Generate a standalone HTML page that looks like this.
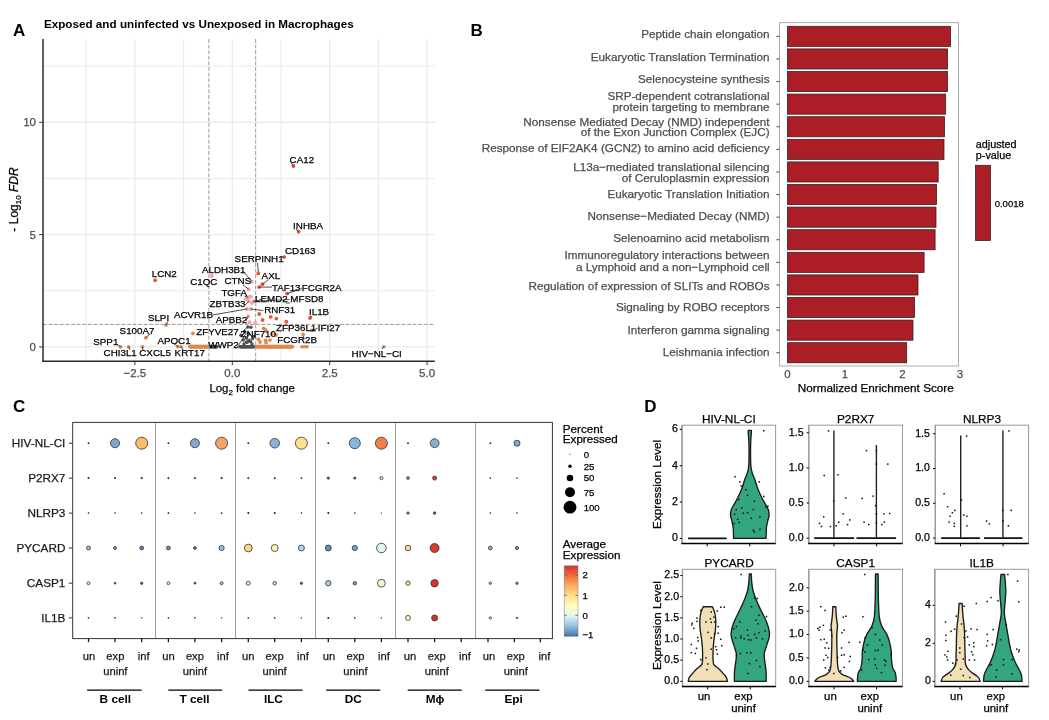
<!DOCTYPE html>
<html><head><meta charset="utf-8"><title>Figure</title>
<style>
html,body{margin:0;padding:0;background:#fff;}
body{width:1049px;height:720px;overflow:hidden;}
svg{display:block;font-family:"Liberation Sans", sans-serif;will-change:transform;}
</style></head><body>
<svg width="1049" height="720" viewBox="0 0 1049 720">
<rect x="0" y="0" width="1049" height="720" fill="#fff"/>
<text x="13.00" y="35.50" font-size="17" text-anchor="start" font-weight="bold" fill="#000" >A</text>
<text x="43.90" y="27.90" font-size="11.7" text-anchor="start" font-weight="bold" fill="#000" >Exposed and uninfected vs Unexposed in Macrophages</text>
<line x1="86.20" y1="39.00" x2="86.20" y2="361.30" stroke="#EBEBEB" stroke-width="1.1"/>
<line x1="134.90" y1="39.00" x2="134.90" y2="361.30" stroke="#EBEBEB" stroke-width="1.3"/>
<line x1="183.60" y1="39.00" x2="183.60" y2="361.30" stroke="#EBEBEB" stroke-width="1.1"/>
<line x1="232.30" y1="39.00" x2="232.30" y2="361.30" stroke="#EBEBEB" stroke-width="1.3"/>
<line x1="281.00" y1="39.00" x2="281.00" y2="361.30" stroke="#EBEBEB" stroke-width="1.1"/>
<line x1="329.70" y1="39.00" x2="329.70" y2="361.30" stroke="#EBEBEB" stroke-width="1.3"/>
<line x1="378.40" y1="39.00" x2="378.40" y2="361.30" stroke="#EBEBEB" stroke-width="1.1"/>
<line x1="427.10" y1="39.00" x2="427.10" y2="361.30" stroke="#EBEBEB" stroke-width="1.3"/>
<line x1="43.00" y1="346.95" x2="434.80" y2="346.95" stroke="#EBEBEB" stroke-width="1.3"/>
<line x1="43.00" y1="290.77" x2="434.80" y2="290.77" stroke="#EBEBEB" stroke-width="1.1"/>
<line x1="43.00" y1="234.60" x2="434.80" y2="234.60" stroke="#EBEBEB" stroke-width="1.3"/>
<line x1="43.00" y1="178.43" x2="434.80" y2="178.43" stroke="#EBEBEB" stroke-width="1.1"/>
<line x1="43.00" y1="122.25" x2="434.80" y2="122.25" stroke="#EBEBEB" stroke-width="1.3"/>
<line x1="43.00" y1="66.07" x2="434.80" y2="66.07" stroke="#EBEBEB" stroke-width="1.1"/>
<line x1="208.92" y1="39.00" x2="208.92" y2="361.30" stroke="#9A9A9A" stroke-width="1.0" stroke-dasharray="3.9,1.7"/>
<line x1="255.68" y1="39.00" x2="255.68" y2="361.30" stroke="#9A9A9A" stroke-width="1.0" stroke-dasharray="3.9,1.7"/>
<line x1="43.00" y1="324.40" x2="434.80" y2="324.40" stroke="#9A9A9A" stroke-width="1.0" stroke-dasharray="3.9,1.7"/>
<circle cx="210.30" cy="346.70" r="1.75" fill="#505050"/>
<circle cx="210.91" cy="346.70" r="1.75" fill="#505050"/>
<circle cx="211.52" cy="346.70" r="1.75" fill="#505050"/>
<circle cx="212.13" cy="346.70" r="1.75" fill="#505050"/>
<circle cx="212.74" cy="346.70" r="1.75" fill="#505050"/>
<circle cx="213.35" cy="346.70" r="1.75" fill="#505050"/>
<circle cx="213.95" cy="346.70" r="1.75" fill="#505050"/>
<circle cx="214.56" cy="346.70" r="1.75" fill="#505050"/>
<circle cx="215.17" cy="346.70" r="1.75" fill="#505050"/>
<circle cx="215.78" cy="346.70" r="1.75" fill="#505050"/>
<circle cx="216.39" cy="346.70" r="1.75" fill="#505050"/>
<circle cx="217.00" cy="346.70" r="1.75" fill="#505050"/>
<circle cx="240.20" cy="346.70" r="1.75" fill="#505050"/>
<circle cx="240.85" cy="346.70" r="1.75" fill="#505050"/>
<circle cx="241.50" cy="346.70" r="1.75" fill="#505050"/>
<circle cx="242.14" cy="346.70" r="1.75" fill="#505050"/>
<circle cx="242.79" cy="346.70" r="1.75" fill="#505050"/>
<circle cx="243.44" cy="346.70" r="1.75" fill="#505050"/>
<circle cx="244.09" cy="346.70" r="1.75" fill="#505050"/>
<circle cx="244.73" cy="346.70" r="1.75" fill="#505050"/>
<circle cx="245.38" cy="346.70" r="1.75" fill="#505050"/>
<circle cx="246.03" cy="346.70" r="1.75" fill="#505050"/>
<circle cx="246.68" cy="346.70" r="1.75" fill="#505050"/>
<circle cx="247.32" cy="346.70" r="1.75" fill="#505050"/>
<circle cx="247.97" cy="346.70" r="1.75" fill="#505050"/>
<circle cx="248.62" cy="346.70" r="1.75" fill="#505050"/>
<circle cx="249.27" cy="346.70" r="1.75" fill="#505050"/>
<circle cx="249.91" cy="346.70" r="1.75" fill="#505050"/>
<circle cx="250.56" cy="346.70" r="1.75" fill="#505050"/>
<circle cx="251.21" cy="346.70" r="1.75" fill="#505050"/>
<circle cx="251.86" cy="346.70" r="1.75" fill="#505050"/>
<circle cx="252.50" cy="346.70" r="1.75" fill="#505050"/>
<circle cx="253.15" cy="346.70" r="1.75" fill="#505050"/>
<circle cx="253.80" cy="346.70" r="1.75" fill="#505050"/>
<circle cx="190.00" cy="346.60" r="1.90" fill="#DB8B50"/>
<circle cx="190.46" cy="346.60" r="1.90" fill="#DB8B50"/>
<circle cx="190.92" cy="346.60" r="1.90" fill="#DB8B50"/>
<circle cx="191.38" cy="346.60" r="1.90" fill="#DB8B50"/>
<circle cx="191.85" cy="346.60" r="1.90" fill="#DB8B50"/>
<circle cx="192.31" cy="346.60" r="1.90" fill="#DB8B50"/>
<circle cx="192.77" cy="346.60" r="1.90" fill="#DB8B50"/>
<circle cx="193.23" cy="346.60" r="1.90" fill="#DB8B50"/>
<circle cx="193.69" cy="346.60" r="1.90" fill="#DB8B50"/>
<circle cx="194.15" cy="346.60" r="1.90" fill="#DB8B50"/>
<circle cx="194.62" cy="346.60" r="1.90" fill="#DB8B50"/>
<circle cx="195.08" cy="346.60" r="1.90" fill="#DB8B50"/>
<circle cx="195.54" cy="346.60" r="1.90" fill="#DB8B50"/>
<circle cx="196.00" cy="346.60" r="1.90" fill="#DB8B50"/>
<circle cx="196.46" cy="346.60" r="1.90" fill="#DB8B50"/>
<circle cx="196.92" cy="346.60" r="1.90" fill="#DB8B50"/>
<circle cx="197.38" cy="346.60" r="1.90" fill="#DB8B50"/>
<circle cx="197.85" cy="346.60" r="1.90" fill="#DB8B50"/>
<circle cx="198.31" cy="346.60" r="1.90" fill="#DB8B50"/>
<circle cx="198.77" cy="346.60" r="1.90" fill="#DB8B50"/>
<circle cx="199.23" cy="346.60" r="1.90" fill="#DB8B50"/>
<circle cx="199.69" cy="346.60" r="1.90" fill="#DB8B50"/>
<circle cx="200.15" cy="346.60" r="1.90" fill="#DB8B50"/>
<circle cx="200.62" cy="346.60" r="1.90" fill="#DB8B50"/>
<circle cx="201.08" cy="346.60" r="1.90" fill="#DB8B50"/>
<circle cx="201.54" cy="346.60" r="1.90" fill="#DB8B50"/>
<circle cx="202.00" cy="346.60" r="1.90" fill="#DB8B50"/>
<circle cx="202.46" cy="346.60" r="1.90" fill="#DB8B50"/>
<circle cx="202.92" cy="346.60" r="1.90" fill="#DB8B50"/>
<circle cx="203.38" cy="346.60" r="1.90" fill="#DB8B50"/>
<circle cx="203.85" cy="346.60" r="1.90" fill="#DB8B50"/>
<circle cx="204.31" cy="346.60" r="1.90" fill="#DB8B50"/>
<circle cx="204.77" cy="346.60" r="1.90" fill="#DB8B50"/>
<circle cx="205.23" cy="346.60" r="1.90" fill="#DB8B50"/>
<circle cx="205.69" cy="346.60" r="1.90" fill="#DB8B50"/>
<circle cx="206.15" cy="346.60" r="1.90" fill="#DB8B50"/>
<circle cx="206.62" cy="346.60" r="1.90" fill="#DB8B50"/>
<circle cx="207.08" cy="346.60" r="1.90" fill="#DB8B50"/>
<circle cx="207.54" cy="346.60" r="1.90" fill="#DB8B50"/>
<circle cx="208.00" cy="346.60" r="1.90" fill="#DB8B50"/>
<circle cx="256.80" cy="346.60" r="1.90" fill="#DB8B50"/>
<circle cx="257.32" cy="346.60" r="1.90" fill="#DB8B50"/>
<circle cx="257.83" cy="346.60" r="1.90" fill="#DB8B50"/>
<circle cx="258.35" cy="346.60" r="1.90" fill="#DB8B50"/>
<circle cx="258.87" cy="346.60" r="1.90" fill="#DB8B50"/>
<circle cx="259.39" cy="346.60" r="1.90" fill="#DB8B50"/>
<circle cx="259.90" cy="346.60" r="1.90" fill="#DB8B50"/>
<circle cx="260.42" cy="346.60" r="1.90" fill="#DB8B50"/>
<circle cx="260.94" cy="346.60" r="1.90" fill="#DB8B50"/>
<circle cx="261.46" cy="346.60" r="1.90" fill="#DB8B50"/>
<circle cx="261.97" cy="346.60" r="1.90" fill="#DB8B50"/>
<circle cx="262.49" cy="346.60" r="1.90" fill="#DB8B50"/>
<circle cx="263.01" cy="346.60" r="1.90" fill="#DB8B50"/>
<circle cx="263.53" cy="346.60" r="1.90" fill="#DB8B50"/>
<circle cx="264.04" cy="346.60" r="1.90" fill="#DB8B50"/>
<circle cx="264.56" cy="346.60" r="1.90" fill="#DB8B50"/>
<circle cx="265.08" cy="346.60" r="1.90" fill="#DB8B50"/>
<circle cx="265.60" cy="346.60" r="1.90" fill="#DB8B50"/>
<circle cx="266.11" cy="346.60" r="1.90" fill="#DB8B50"/>
<circle cx="266.63" cy="346.60" r="1.90" fill="#DB8B50"/>
<circle cx="267.15" cy="346.60" r="1.90" fill="#DB8B50"/>
<circle cx="267.67" cy="346.60" r="1.90" fill="#DB8B50"/>
<circle cx="268.18" cy="346.60" r="1.90" fill="#DB8B50"/>
<circle cx="268.70" cy="346.60" r="1.90" fill="#DB8B50"/>
<circle cx="269.22" cy="346.60" r="1.90" fill="#DB8B50"/>
<circle cx="269.73" cy="346.60" r="1.90" fill="#DB8B50"/>
<circle cx="270.25" cy="346.60" r="1.90" fill="#DB8B50"/>
<circle cx="270.77" cy="346.60" r="1.90" fill="#DB8B50"/>
<circle cx="271.29" cy="346.60" r="1.90" fill="#DB8B50"/>
<circle cx="271.80" cy="346.60" r="1.90" fill="#DB8B50"/>
<circle cx="272.32" cy="346.60" r="1.90" fill="#DB8B50"/>
<circle cx="272.84" cy="346.60" r="1.90" fill="#DB8B50"/>
<circle cx="273.36" cy="346.60" r="1.90" fill="#DB8B50"/>
<circle cx="273.87" cy="346.60" r="1.90" fill="#DB8B50"/>
<circle cx="274.39" cy="346.60" r="1.90" fill="#DB8B50"/>
<circle cx="274.91" cy="346.60" r="1.90" fill="#DB8B50"/>
<circle cx="275.43" cy="346.60" r="1.90" fill="#DB8B50"/>
<circle cx="275.94" cy="346.60" r="1.90" fill="#DB8B50"/>
<circle cx="276.46" cy="346.60" r="1.90" fill="#DB8B50"/>
<circle cx="276.98" cy="346.60" r="1.90" fill="#DB8B50"/>
<circle cx="277.50" cy="346.60" r="1.90" fill="#DB8B50"/>
<circle cx="278.01" cy="346.60" r="1.90" fill="#DB8B50"/>
<circle cx="278.53" cy="346.60" r="1.90" fill="#DB8B50"/>
<circle cx="279.05" cy="346.60" r="1.90" fill="#DB8B50"/>
<circle cx="279.57" cy="346.60" r="1.90" fill="#DB8B50"/>
<circle cx="280.08" cy="346.60" r="1.90" fill="#DB8B50"/>
<circle cx="280.60" cy="346.60" r="1.90" fill="#DB8B50"/>
<circle cx="281.12" cy="346.60" r="1.90" fill="#DB8B50"/>
<circle cx="281.63" cy="346.60" r="1.90" fill="#DB8B50"/>
<circle cx="282.15" cy="346.60" r="1.90" fill="#DB8B50"/>
<circle cx="282.67" cy="346.60" r="1.90" fill="#DB8B50"/>
<circle cx="283.19" cy="346.60" r="1.90" fill="#DB8B50"/>
<circle cx="283.70" cy="346.60" r="1.90" fill="#DB8B50"/>
<circle cx="284.22" cy="346.60" r="1.90" fill="#DB8B50"/>
<circle cx="284.74" cy="346.60" r="1.90" fill="#DB8B50"/>
<circle cx="285.26" cy="346.60" r="1.90" fill="#DB8B50"/>
<circle cx="285.77" cy="346.60" r="1.90" fill="#DB8B50"/>
<circle cx="286.29" cy="346.60" r="1.90" fill="#DB8B50"/>
<circle cx="286.81" cy="346.60" r="1.90" fill="#DB8B50"/>
<circle cx="287.33" cy="346.60" r="1.90" fill="#DB8B50"/>
<circle cx="287.84" cy="346.60" r="1.90" fill="#DB8B50"/>
<circle cx="288.36" cy="346.60" r="1.90" fill="#DB8B50"/>
<circle cx="288.88" cy="346.60" r="1.90" fill="#DB8B50"/>
<circle cx="289.40" cy="346.60" r="1.90" fill="#DB8B50"/>
<circle cx="289.91" cy="346.60" r="1.90" fill="#DB8B50"/>
<circle cx="290.43" cy="346.60" r="1.90" fill="#DB8B50"/>
<circle cx="290.95" cy="346.60" r="1.90" fill="#DB8B50"/>
<circle cx="291.47" cy="346.60" r="1.90" fill="#DB8B50"/>
<circle cx="291.98" cy="346.60" r="1.90" fill="#DB8B50"/>
<circle cx="292.50" cy="346.60" r="1.90" fill="#DB8B50"/>
<circle cx="177.80" cy="346.70" r="1.80" fill="#DB8B50"/>
<circle cx="181.00" cy="346.70" r="1.80" fill="#DB8B50"/>
<circle cx="302.00" cy="346.70" r="1.80" fill="#DB8B50"/>
<circle cx="304.50" cy="346.70" r="1.80" fill="#DB8B50"/>
<circle cx="307.00" cy="346.70" r="1.80" fill="#DB8B50"/>
<circle cx="384.00" cy="346.70" r="1.80" fill="#DB8B50"/>
<circle cx="120.60" cy="346.80" r="1.90" fill="#DB8B50"/>
<circle cx="128.60" cy="346.80" r="1.90" fill="#DB8B50"/>
<circle cx="142.30" cy="346.80" r="1.90" fill="#DB8B50"/>
<circle cx="145.80" cy="337.80" r="1.90" fill="#DB8B50"/>
<circle cx="166.00" cy="324.90" r="1.90" fill="#DB8B50"/>
<circle cx="192.90" cy="333.40" r="1.90" fill="#DB8B50"/>
<circle cx="263.50" cy="328.30" r="1.90" fill="#DB8B50"/>
<circle cx="265.70" cy="330.00" r="1.90" fill="#DB8B50"/>
<circle cx="258.30" cy="339.20" r="1.90" fill="#DB8B50"/>
<circle cx="265.70" cy="340.30" r="1.90" fill="#DB8B50"/>
<circle cx="270.00" cy="340.10" r="1.90" fill="#DB8B50"/>
<circle cx="266.00" cy="342.60" r="1.90" fill="#DB8B50"/>
<circle cx="260.00" cy="342.00" r="1.90" fill="#DB8B50"/>
<circle cx="303.10" cy="334.40" r="1.90" fill="#DB8B50"/>
<circle cx="311.80" cy="330.30" r="1.90" fill="#DB8B50"/>
<circle cx="272.00" cy="334.00" r="1.90" fill="#DB8B50"/>
<circle cx="276.00" cy="335.00" r="1.90" fill="#DB8B50"/>
<circle cx="249.00" cy="340.60" r="1.75" fill="#505050"/>
<circle cx="250.50" cy="341.50" r="1.75" fill="#505050"/>
<circle cx="247.50" cy="342.00" r="1.75" fill="#505050"/>
<circle cx="243.30" cy="339.90" r="1.75" fill="#505050"/>
<circle cx="246.40" cy="338.30" r="1.75" fill="#505050"/>
<circle cx="247.90" cy="326.90" r="1.75" fill="#505050"/>
<circle cx="250.90" cy="327.30" r="1.75" fill="#505050"/>
<circle cx="254.00" cy="336.40" r="1.75" fill="#505050"/>
<circle cx="241.00" cy="335.30" r="1.75" fill="#505050"/>
<circle cx="246.40" cy="342.20" r="1.75" fill="#505050"/>
<circle cx="244.00" cy="344.00" r="1.75" fill="#505050"/>
<circle cx="252.00" cy="344.00" r="1.75" fill="#505050"/>
<circle cx="252.50" cy="338.50" r="1.75" fill="#505050"/>
<circle cx="248.50" cy="334.00" r="1.75" fill="#505050"/>
<circle cx="244.50" cy="331.50" r="1.75" fill="#505050"/>
<circle cx="211.80" cy="276.00" r="1.95" fill="#F2A3A3"/>
<circle cx="251.80" cy="281.70" r="1.95" fill="#F2A3A3"/>
<circle cx="248.60" cy="289.20" r="1.95" fill="#F2A3A3"/>
<circle cx="248.10" cy="297.20" r="1.95" fill="#F2A3A3"/>
<circle cx="250.70" cy="296.80" r="1.95" fill="#F2A3A3"/>
<circle cx="248.80" cy="300.90" r="1.95" fill="#F2A3A3"/>
<circle cx="253.50" cy="301.20" r="1.95" fill="#F2A3A3"/>
<circle cx="247.00" cy="309.00" r="1.95" fill="#F2A3A3"/>
<circle cx="250.70" cy="309.00" r="1.95" fill="#F2A3A3"/>
<circle cx="248.10" cy="316.30" r="1.95" fill="#F2A3A3"/>
<circle cx="249.50" cy="322.30" r="1.95" fill="#F2A3A3"/>
<circle cx="255.20" cy="322.90" r="1.95" fill="#F2A3A3"/>
<circle cx="252.00" cy="303.00" r="1.95" fill="#F2A3A3"/>
<circle cx="246.00" cy="299.00" r="1.95" fill="#F2A3A3"/>
<circle cx="293.40" cy="166.00" r="1.95" fill="#E8573D"/>
<circle cx="298.60" cy="231.70" r="1.95" fill="#E8573D"/>
<circle cx="284.10" cy="257.10" r="1.95" fill="#E8573D"/>
<circle cx="155.10" cy="280.20" r="1.95" fill="#E8573D"/>
<circle cx="258.30" cy="273.40" r="1.95" fill="#E8573D"/>
<circle cx="262.40" cy="284.30" r="1.95" fill="#E8573D"/>
<circle cx="259.10" cy="287.10" r="1.95" fill="#E8573D"/>
<circle cx="287.10" cy="293.60" r="1.95" fill="#E8573D"/>
<circle cx="259.20" cy="314.00" r="1.95" fill="#E8573D"/>
<circle cx="262.60" cy="320.00" r="1.95" fill="#E8573D"/>
<circle cx="270.70" cy="316.90" r="1.95" fill="#E8573D"/>
<circle cx="276.40" cy="318.60" r="1.95" fill="#E8573D"/>
<circle cx="286.30" cy="321.80" r="1.95" fill="#E8573D"/>
<circle cx="310.00" cy="318.00" r="1.95" fill="#E8573D"/>
<line x1="43.00" y1="39.00" x2="43.00" y2="362.00" stroke="#2a2a2a" stroke-width="1.5"/>
<line x1="42.30" y1="361.30" x2="434.80" y2="361.30" stroke="#2a2a2a" stroke-width="1.5"/>
<line x1="39.20" y1="346.95" x2="43.00" y2="346.95" stroke="#333" stroke-width="1.0"/>
<text x="36.00" y="351.05" font-size="11.5" text-anchor="end" font-weight="normal" fill="#4D4D4D" stroke="#4D4D4D" stroke-width="0.25" >0</text>
<line x1="39.20" y1="234.60" x2="43.00" y2="234.60" stroke="#333" stroke-width="1.0"/>
<text x="36.00" y="238.70" font-size="11.5" text-anchor="end" font-weight="normal" fill="#4D4D4D" stroke="#4D4D4D" stroke-width="0.25" >5</text>
<line x1="39.20" y1="122.25" x2="43.00" y2="122.25" stroke="#333" stroke-width="1.0"/>
<text x="36.00" y="126.35" font-size="11.5" text-anchor="end" font-weight="normal" fill="#4D4D4D" stroke="#4D4D4D" stroke-width="0.25" >10</text>
<line x1="134.90" y1="361.30" x2="134.90" y2="365.10" stroke="#333" stroke-width="1.0"/>
<text x="134.90" y="377.00" font-size="11.5" text-anchor="middle" font-weight="normal" fill="#4D4D4D" stroke="#4D4D4D" stroke-width="0.25" >−2.5</text>
<line x1="232.30" y1="361.30" x2="232.30" y2="365.10" stroke="#333" stroke-width="1.0"/>
<text x="232.30" y="377.00" font-size="11.5" text-anchor="middle" font-weight="normal" fill="#4D4D4D" stroke="#4D4D4D" stroke-width="0.25" >0.0</text>
<line x1="329.70" y1="361.30" x2="329.70" y2="365.10" stroke="#333" stroke-width="1.0"/>
<text x="329.70" y="377.00" font-size="11.5" text-anchor="middle" font-weight="normal" fill="#4D4D4D" stroke="#4D4D4D" stroke-width="0.25" >2.5</text>
<line x1="427.10" y1="361.30" x2="427.10" y2="365.10" stroke="#333" stroke-width="1.0"/>
<text x="427.10" y="377.00" font-size="11.5" text-anchor="middle" font-weight="normal" fill="#4D4D4D" stroke="#4D4D4D" stroke-width="0.25" >5.0</text>
<text x="209.4" y="392" font-size="11.4" fill="#000" stroke="#000" stroke-width="0.25">Log<tspan font-size="8" dy="3">2</tspan><tspan dy="-3"> fold change</tspan></text>
<text transform="translate(17.6,199.5) rotate(-90)" font-size="12" text-anchor="middle" fill="#000" stroke="#000" stroke-width="0.25">- Log<tspan font-size="8" dy="3">10</tspan><tspan dy="-3" font-style="italic"> FDR</tspan></text>
<text x="289.60" y="162.90" font-size="9.8" text-anchor="start" font-weight="normal" fill="#000" stroke="#000" stroke-width="0.25" >CA12</text>
<text x="293.10" y="228.60" font-size="9.8" text-anchor="start" font-weight="normal" fill="#000" stroke="#000" stroke-width="0.25" >INHBA</text>
<text x="285.00" y="254.00" font-size="9.8" text-anchor="start" font-weight="normal" fill="#000" stroke="#000" stroke-width="0.25" >CD163</text>
<text x="234.60" y="261.60" font-size="9.8" text-anchor="start" font-weight="normal" fill="#000" stroke="#000" stroke-width="0.25" >SERPINH1</text>
<text x="261.60" y="279.00" font-size="9.8" text-anchor="start" font-weight="normal" fill="#000" stroke="#000" stroke-width="0.25" >AXL</text>
<text x="271.90" y="290.70" font-size="9.8" text-anchor="start" font-weight="normal" fill="#000" stroke="#000" stroke-width="0.25" >TAF13</text>
<text x="301.80" y="290.70" font-size="9.8" text-anchor="start" font-weight="normal" fill="#000" stroke="#000" stroke-width="0.25" >FCGR2A</text>
<text x="202.00" y="272.60" font-size="9.8" text-anchor="start" font-weight="normal" fill="#000" stroke="#000" stroke-width="0.25" >ALDH3B1</text>
<text x="151.70" y="276.90" font-size="9.8" text-anchor="start" font-weight="normal" fill="#000" stroke="#000" stroke-width="0.25" >LCN2</text>
<text x="190.20" y="285.40" font-size="9.8" text-anchor="start" font-weight="normal" fill="#000" stroke="#000" stroke-width="0.25" >C1QC</text>
<text x="224.50" y="284.30" font-size="9.8" text-anchor="start" font-weight="normal" fill="#000" stroke="#000" stroke-width="0.25" >CTNS</text>
<text x="221.40" y="295.50" font-size="9.8" text-anchor="start" font-weight="normal" fill="#000" stroke="#000" stroke-width="0.25" >TGFA</text>
<text x="255.00" y="302.30" font-size="9.8" text-anchor="start" font-weight="normal" fill="#000" stroke="#000" stroke-width="0.25" >LEMD2</text>
<text x="290.30" y="302.30" font-size="9.8" text-anchor="start" font-weight="normal" fill="#000" stroke="#000" stroke-width="0.25" >MFSD8</text>
<text x="209.60" y="307.10" font-size="9.8" text-anchor="start" font-weight="normal" fill="#000" stroke="#000" stroke-width="0.25" >ZBTB33</text>
<text x="264.20" y="313.40" font-size="9.8" text-anchor="start" font-weight="normal" fill="#000" stroke="#000" stroke-width="0.25" >RNF31</text>
<text x="309.00" y="314.60" font-size="9.8" text-anchor="start" font-weight="normal" fill="#000" stroke="#000" stroke-width="0.25" >IL1B</text>
<text x="173.90" y="318.30" font-size="9.8" text-anchor="start" font-weight="normal" fill="#000" stroke="#000" stroke-width="0.25" >ACVR1B</text>
<text x="147.90" y="321.40" font-size="9.8" text-anchor="start" font-weight="normal" fill="#000" stroke="#000" stroke-width="0.25" >SLPI</text>
<text x="215.70" y="323.30" font-size="9.8" text-anchor="start" font-weight="normal" fill="#000" stroke="#000" stroke-width="0.25" >APBB2</text>
<text x="119.60" y="333.50" font-size="9.8" text-anchor="start" font-weight="normal" fill="#000" stroke="#000" stroke-width="0.25" >S100A7</text>
<text x="196.30" y="335.00" font-size="9.8" text-anchor="start" font-weight="normal" fill="#000" stroke="#000" stroke-width="0.25" >ZFYVE27</text>
<text x="240.60" y="336.70" font-size="9.8" text-anchor="start" font-weight="normal" fill="#000" stroke="#000" stroke-width="0.25" >ZNF710</text>
<text x="276.00" y="331.40" font-size="9.8" text-anchor="start" font-weight="normal" fill="#000" stroke="#000" stroke-width="0.25" >ZFP36L1</text>
<text x="317.80" y="331.40" font-size="9.8" text-anchor="start" font-weight="normal" fill="#000" stroke="#000" stroke-width="0.25" >IFI27</text>
<text x="93.30" y="344.50" font-size="9.8" text-anchor="start" font-weight="normal" fill="#000" stroke="#000" stroke-width="0.25" >SPP1</text>
<text x="157.40" y="343.70" font-size="9.8" text-anchor="start" font-weight="normal" fill="#000" stroke="#000" stroke-width="0.25" >APOC1</text>
<text x="277.30" y="343.20" font-size="9.8" text-anchor="start" font-weight="normal" fill="#000" stroke="#000" stroke-width="0.25" >FCGR2B</text>
<text x="208.20" y="348.10" font-size="9.8" text-anchor="start" font-weight="normal" fill="#000" stroke="#000" stroke-width="0.25" >WWP2</text>
<text x="103.60" y="356.30" font-size="9.8" text-anchor="start" font-weight="normal" fill="#000" stroke="#000" stroke-width="0.25" >CHI3L1</text>
<text x="139.30" y="356.30" font-size="9.8" text-anchor="start" font-weight="normal" fill="#000" stroke="#000" stroke-width="0.25" >CXCL5</text>
<text x="174.60" y="356.30" font-size="9.8" text-anchor="start" font-weight="normal" fill="#000" stroke="#000" stroke-width="0.25" >KRT17</text>
<text x="351.60" y="356.70" font-size="9.8" text-anchor="start" font-weight="normal" fill="#000" stroke="#000" stroke-width="0.25" >HIV−NL−CI</text>
<line x1="257.50" y1="263.00" x2="258.30" y2="272.00" stroke="#222" stroke-width="0.8"/>
<line x1="262.40" y1="284.30" x2="268.00" y2="280.00" stroke="#222" stroke-width="0.8"/>
<line x1="259.10" y1="287.10" x2="272.00" y2="287.10" stroke="#222" stroke-width="0.8"/>
<line x1="287.10" y1="293.60" x2="302.00" y2="288.50" stroke="#222" stroke-width="0.8"/>
<line x1="253.30" y1="301.30" x2="289.50" y2="299.50" stroke="#222" stroke-width="0.8"/>
<line x1="312.50" y1="330.30" x2="317.60" y2="328.20" stroke="#222" stroke-width="0.8"/>
<line x1="243.00" y1="271.00" x2="251.50" y2="281.00" stroke="#222" stroke-width="0.8"/>
<line x1="243.00" y1="285.00" x2="248.50" y2="289.00" stroke="#222" stroke-width="0.8"/>
<line x1="244.50" y1="296.00" x2="248.00" y2="297.20" stroke="#222" stroke-width="0.8"/>
<line x1="245.00" y1="305.00" x2="249.00" y2="301.50" stroke="#222" stroke-width="0.8"/>
<line x1="212.30" y1="315.00" x2="247.00" y2="309.00" stroke="#222" stroke-width="0.8"/>
<line x1="250.70" y1="309.00" x2="263.00" y2="310.50" stroke="#222" stroke-width="0.8"/>
<line x1="254.00" y1="302.00" x2="262.00" y2="299.00" stroke="#222" stroke-width="0.8"/>
<line x1="246.00" y1="321.00" x2="248.10" y2="316.30" stroke="#222" stroke-width="0.8"/>
<line x1="241.00" y1="333.00" x2="247.50" y2="327.00" stroke="#222" stroke-width="0.8"/>
<line x1="237.50" y1="347.00" x2="246.40" y2="332.60" stroke="#222" stroke-width="0.8"/>
<line x1="291.00" y1="162.50" x2="293.40" y2="166.00" stroke="#222" stroke-width="0.8"/>
<line x1="296.00" y1="229.00" x2="298.60" y2="231.70" stroke="#222" stroke-width="0.8"/>
<line x1="282.00" y1="257.00" x2="284.10" y2="257.10" stroke="#222" stroke-width="0.8"/>
<line x1="168.00" y1="321.50" x2="166.00" y2="324.90" stroke="#222" stroke-width="0.8"/>
<line x1="150.00" y1="334.00" x2="145.80" y2="337.80" stroke="#222" stroke-width="0.8"/>
<line x1="118.00" y1="345.00" x2="120.60" y2="346.80" stroke="#222" stroke-width="0.8"/>
<line x1="130.00" y1="350.00" x2="128.60" y2="346.80" stroke="#222" stroke-width="0.8"/>
<line x1="142.30" y1="346.80" x2="143.00" y2="350.00" stroke="#222" stroke-width="0.8"/>
<line x1="174.00" y1="344.00" x2="178.60" y2="346.60" stroke="#222" stroke-width="0.8"/>
<line x1="181.20" y1="346.60" x2="183.00" y2="350.00" stroke="#222" stroke-width="0.8"/>
<line x1="310.00" y1="318.00" x2="312.00" y2="316.00" stroke="#222" stroke-width="0.8"/>
<line x1="304.00" y1="336.00" x2="301.00" y2="340.00" stroke="#222" stroke-width="0.8"/>
<line x1="311.80" y1="330.30" x2="314.00" y2="328.00" stroke="#222" stroke-width="0.8"/>
<line x1="383.70" y1="346.70" x2="382.00" y2="349.00" stroke="#222" stroke-width="0.8"/>
<line x1="286.00" y1="303.00" x2="290.00" y2="303.00" stroke="#222" stroke-width="0.8"/>
<text x="470.40" y="35.50" font-size="17" text-anchor="start" font-weight="bold" fill="#000" >B</text>
<rect x="779.40" y="22.70" width="179.20" height="343.30" fill="none" stroke="#9A9A9A" stroke-width="0.8"/>
<rect x="787.50" y="26.30" width="163.10" height="20.10" fill="#AC1E25" stroke="#2E1C1C" stroke-width="0.75"/>
<line x1="776.40" y1="36.35" x2="779.40" y2="36.35" stroke="#333" stroke-width="0.9"/>
<text x="769.60" y="37.60" font-size="11.72" text-anchor="end" font-weight="normal" fill="#4D4D4D" stroke="#4D4D4D" stroke-width="0.25" >Peptide chain elongation</text>
<rect x="787.50" y="48.90" width="160.10" height="20.10" fill="#AC1E25" stroke="#2E1C1C" stroke-width="0.75"/>
<line x1="776.40" y1="58.95" x2="779.40" y2="58.95" stroke="#333" stroke-width="0.9"/>
<text x="769.60" y="60.50" font-size="11.72" text-anchor="end" font-weight="normal" fill="#4D4D4D" stroke="#4D4D4D" stroke-width="0.25" >Eukaryotic Translation Termination</text>
<rect x="787.50" y="71.50" width="160.10" height="20.10" fill="#AC1E25" stroke="#2E1C1C" stroke-width="0.75"/>
<line x1="776.40" y1="81.55" x2="779.40" y2="81.55" stroke="#333" stroke-width="0.9"/>
<text x="769.60" y="83.10" font-size="11.72" text-anchor="end" font-weight="normal" fill="#4D4D4D" stroke="#4D4D4D" stroke-width="0.25" >Selenocysteine synthesis</text>
<rect x="787.50" y="94.10" width="158.20" height="20.10" fill="#AC1E25" stroke="#2E1C1C" stroke-width="0.75"/>
<line x1="776.40" y1="104.15" x2="779.40" y2="104.15" stroke="#333" stroke-width="0.9"/>
<text x="769.60" y="99.90" font-size="11.72" text-anchor="end" font-weight="normal" fill="#4D4D4D" stroke="#4D4D4D" stroke-width="0.25" >SRP-dependent cotranslational</text>
<text x="769.60" y="110.60" font-size="11.72" text-anchor="end" font-weight="normal" fill="#4D4D4D" stroke="#4D4D4D" stroke-width="0.25" >protein targeting to membrane</text>
<rect x="787.50" y="116.70" width="157.10" height="20.10" fill="#AC1E25" stroke="#2E1C1C" stroke-width="0.75"/>
<line x1="776.40" y1="126.75" x2="779.40" y2="126.75" stroke="#333" stroke-width="0.9"/>
<text x="769.60" y="125.50" font-size="11.72" text-anchor="end" font-weight="normal" fill="#4D4D4D" stroke="#4D4D4D" stroke-width="0.25" >Nonsense Mediated Decay (NMD) independent</text>
<text x="769.60" y="136.20" font-size="11.72" text-anchor="end" font-weight="normal" fill="#4D4D4D" stroke="#4D4D4D" stroke-width="0.25" >of the Exon Junction Complex (EJC)</text>
<rect x="787.50" y="139.30" width="156.50" height="20.10" fill="#AC1E25" stroke="#2E1C1C" stroke-width="0.75"/>
<line x1="776.40" y1="149.35" x2="779.40" y2="149.35" stroke="#333" stroke-width="0.9"/>
<text x="769.60" y="152.20" font-size="11.72" text-anchor="end" font-weight="normal" fill="#4D4D4D" stroke="#4D4D4D" stroke-width="0.25" >Response of EIF2AK4 (GCN2) to amino acid deficiency</text>
<rect x="787.50" y="161.90" width="150.70" height="20.10" fill="#AC1E25" stroke="#2E1C1C" stroke-width="0.75"/>
<line x1="776.40" y1="171.95" x2="779.40" y2="171.95" stroke="#333" stroke-width="0.9"/>
<text x="769.60" y="171.30" font-size="11.72" text-anchor="end" font-weight="normal" fill="#4D4D4D" stroke="#4D4D4D" stroke-width="0.25" >L13a−mediated translational silencing</text>
<text x="769.60" y="181.60" font-size="11.72" text-anchor="end" font-weight="normal" fill="#4D4D4D" stroke="#4D4D4D" stroke-width="0.25" >of Ceruloplasmin expression</text>
<rect x="787.50" y="184.50" width="149.10" height="20.10" fill="#AC1E25" stroke="#2E1C1C" stroke-width="0.75"/>
<line x1="776.40" y1="194.55" x2="779.40" y2="194.55" stroke="#333" stroke-width="0.9"/>
<text x="769.60" y="197.80" font-size="11.72" text-anchor="end" font-weight="normal" fill="#4D4D4D" stroke="#4D4D4D" stroke-width="0.25" >Eukaryotic Translation Initiation</text>
<rect x="787.50" y="207.10" width="148.50" height="20.10" fill="#AC1E25" stroke="#2E1C1C" stroke-width="0.75"/>
<line x1="776.40" y1="217.15" x2="779.40" y2="217.15" stroke="#333" stroke-width="0.9"/>
<text x="769.60" y="220.20" font-size="11.72" text-anchor="end" font-weight="normal" fill="#4D4D4D" stroke="#4D4D4D" stroke-width="0.25" >Nonsense−Mediated Decay (NMD)</text>
<rect x="787.50" y="229.70" width="147.60" height="20.10" fill="#AC1E25" stroke="#2E1C1C" stroke-width="0.75"/>
<line x1="776.40" y1="239.75" x2="779.40" y2="239.75" stroke="#333" stroke-width="0.9"/>
<text x="769.60" y="242.40" font-size="11.72" text-anchor="end" font-weight="normal" fill="#4D4D4D" stroke="#4D4D4D" stroke-width="0.25" >Selenoamino acid metabolism</text>
<rect x="787.50" y="252.30" width="136.60" height="20.10" fill="#AC1E25" stroke="#2E1C1C" stroke-width="0.75"/>
<line x1="776.40" y1="262.35" x2="779.40" y2="262.35" stroke="#333" stroke-width="0.9"/>
<text x="769.60" y="259.30" font-size="11.72" text-anchor="end" font-weight="normal" fill="#4D4D4D" stroke="#4D4D4D" stroke-width="0.25" >Immunoregulatory interactions between</text>
<text x="769.60" y="270.50" font-size="11.72" text-anchor="end" font-weight="normal" fill="#4D4D4D" stroke="#4D4D4D" stroke-width="0.25" >a Lymphoid and a non−Lymphoid cell</text>
<rect x="787.50" y="274.90" width="130.50" height="20.10" fill="#AC1E25" stroke="#2E1C1C" stroke-width="0.75"/>
<line x1="776.40" y1="284.95" x2="779.40" y2="284.95" stroke="#333" stroke-width="0.9"/>
<text x="769.60" y="290.30" font-size="11.72" text-anchor="end" font-weight="normal" fill="#4D4D4D" stroke="#4D4D4D" stroke-width="0.25" >Regulation of expression of SLITs and ROBOs</text>
<rect x="787.50" y="297.50" width="127.10" height="20.10" fill="#AC1E25" stroke="#2E1C1C" stroke-width="0.75"/>
<line x1="776.40" y1="307.55" x2="779.40" y2="307.55" stroke="#333" stroke-width="0.9"/>
<text x="769.60" y="310.70" font-size="11.72" text-anchor="end" font-weight="normal" fill="#4D4D4D" stroke="#4D4D4D" stroke-width="0.25" >Signaling by ROBO receptors</text>
<rect x="787.50" y="320.10" width="125.50" height="20.10" fill="#AC1E25" stroke="#2E1C1C" stroke-width="0.75"/>
<line x1="776.40" y1="330.15" x2="779.40" y2="330.15" stroke="#333" stroke-width="0.9"/>
<text x="769.60" y="333.90" font-size="11.72" text-anchor="end" font-weight="normal" fill="#4D4D4D" stroke="#4D4D4D" stroke-width="0.25" >Interferon gamma signaling</text>
<rect x="787.50" y="342.70" width="119.20" height="20.10" fill="#AC1E25" stroke="#2E1C1C" stroke-width="0.75"/>
<line x1="776.40" y1="352.75" x2="779.40" y2="352.75" stroke="#333" stroke-width="0.9"/>
<text x="769.60" y="356.30" font-size="11.72" text-anchor="end" font-weight="normal" fill="#4D4D4D" stroke="#4D4D4D" stroke-width="0.25" >Leishmania infection</text>
<text x="787.50" y="378.10" font-size="11.5" text-anchor="middle" font-weight="normal" fill="#4D4D4D" stroke="#4D4D4D" stroke-width="0.25" >0</text>
<text x="845.00" y="378.10" font-size="11.5" text-anchor="middle" font-weight="normal" fill="#4D4D4D" stroke="#4D4D4D" stroke-width="0.25" >1</text>
<text x="902.50" y="378.10" font-size="11.5" text-anchor="middle" font-weight="normal" fill="#4D4D4D" stroke="#4D4D4D" stroke-width="0.25" >2</text>
<text x="960.00" y="378.10" font-size="11.5" text-anchor="middle" font-weight="normal" fill="#4D4D4D" stroke="#4D4D4D" stroke-width="0.25" >3</text>
<text x="875.80" y="392.40" font-size="11.75" text-anchor="middle" font-weight="normal" fill="#000" stroke="#000" stroke-width="0.25" >Normalized Enrichment Score</text>
<text x="975.80" y="148.00" font-size="10.8" text-anchor="start" font-weight="normal" fill="#000" stroke="#000" stroke-width="0.25" >adjusted</text>
<text x="975.80" y="159.30" font-size="10.8" text-anchor="start" font-weight="normal" fill="#000" stroke="#000" stroke-width="0.25" >p-value</text>
<rect x="975.40" y="165.30" width="15.10" height="75.20" fill="#AC1E25" stroke="#2E1C1C" stroke-width="0.75"/>
<line x1="988.00" y1="203.30" x2="990.50" y2="203.30" stroke="#555" stroke-width="0.7"/>
<text x="994.70" y="206.90" font-size="9.5" text-anchor="start" font-weight="normal" fill="#000" stroke="#000" stroke-width="0.25" >0.0018</text>
<text x="13.10" y="411.60" font-size="17" text-anchor="start" font-weight="bold" fill="#000" >C</text>
<line x1="155.50" y1="422.40" x2="155.50" y2="638.60" stroke="#A0A0A0" stroke-width="1.0"/>
<line x1="235.50" y1="422.40" x2="235.50" y2="638.60" stroke="#A0A0A0" stroke-width="1.0"/>
<line x1="315.50" y1="422.40" x2="315.50" y2="638.60" stroke="#A0A0A0" stroke-width="1.0"/>
<line x1="395.50" y1="422.40" x2="395.50" y2="638.60" stroke="#A0A0A0" stroke-width="1.0"/>
<line x1="475.60" y1="422.40" x2="475.60" y2="638.60" stroke="#A0A0A0" stroke-width="1.0"/>
<rect x="72.70" y="422.40" width="479.70" height="216.20" fill="none" stroke="#333" stroke-width="1.0"/>
<line x1="68.80" y1="443.20" x2="72.70" y2="443.20" stroke="#333" stroke-width="1.0"/>
<text x="65.40" y="447.30" font-size="11.75" text-anchor="end" font-weight="normal" fill="#1A1A1A" stroke="#1A1A1A" stroke-width="0.25" >HIV-NL-CI</text>
<line x1="68.80" y1="478.10" x2="72.70" y2="478.10" stroke="#333" stroke-width="1.0"/>
<text x="65.40" y="482.20" font-size="11.75" text-anchor="end" font-weight="normal" fill="#1A1A1A" stroke="#1A1A1A" stroke-width="0.25" >P2RX7</text>
<line x1="68.80" y1="513.10" x2="72.70" y2="513.10" stroke="#333" stroke-width="1.0"/>
<text x="65.40" y="517.20" font-size="11.75" text-anchor="end" font-weight="normal" fill="#1A1A1A" stroke="#1A1A1A" stroke-width="0.25" >NLRP3</text>
<line x1="68.80" y1="548.00" x2="72.70" y2="548.00" stroke="#333" stroke-width="1.0"/>
<text x="65.40" y="552.10" font-size="11.75" text-anchor="end" font-weight="normal" fill="#1A1A1A" stroke="#1A1A1A" stroke-width="0.25" >PYCARD</text>
<line x1="68.80" y1="583.20" x2="72.70" y2="583.20" stroke="#333" stroke-width="1.0"/>
<text x="65.40" y="587.30" font-size="11.75" text-anchor="end" font-weight="normal" fill="#1A1A1A" stroke="#1A1A1A" stroke-width="0.25" >CASP1</text>
<line x1="68.80" y1="617.90" x2="72.70" y2="617.90" stroke="#333" stroke-width="1.0"/>
<text x="65.40" y="622.00" font-size="11.75" text-anchor="end" font-weight="normal" fill="#1A1A1A" stroke="#1A1A1A" stroke-width="0.25" >IL1B</text>
<line x1="88.50" y1="638.60" x2="88.50" y2="642.20" stroke="#111" stroke-width="1.25"/>
<line x1="115.00" y1="638.60" x2="115.00" y2="642.20" stroke="#111" stroke-width="1.25"/>
<line x1="141.70" y1="638.60" x2="141.70" y2="642.20" stroke="#111" stroke-width="1.25"/>
<line x1="168.40" y1="638.60" x2="168.40" y2="642.20" stroke="#111" stroke-width="1.25"/>
<line x1="194.90" y1="638.60" x2="194.90" y2="642.20" stroke="#111" stroke-width="1.25"/>
<line x1="221.60" y1="638.60" x2="221.60" y2="642.20" stroke="#111" stroke-width="1.25"/>
<line x1="248.30" y1="638.60" x2="248.30" y2="642.20" stroke="#111" stroke-width="1.25"/>
<line x1="274.70" y1="638.60" x2="274.70" y2="642.20" stroke="#111" stroke-width="1.25"/>
<line x1="301.40" y1="638.60" x2="301.40" y2="642.20" stroke="#111" stroke-width="1.25"/>
<line x1="328.30" y1="638.60" x2="328.30" y2="642.20" stroke="#111" stroke-width="1.25"/>
<line x1="354.80" y1="638.60" x2="354.80" y2="642.20" stroke="#111" stroke-width="1.25"/>
<line x1="381.40" y1="638.60" x2="381.40" y2="642.20" stroke="#111" stroke-width="1.25"/>
<line x1="408.00" y1="638.60" x2="408.00" y2="642.20" stroke="#111" stroke-width="1.25"/>
<line x1="434.60" y1="638.60" x2="434.60" y2="642.20" stroke="#111" stroke-width="1.25"/>
<line x1="461.20" y1="638.60" x2="461.20" y2="642.20" stroke="#111" stroke-width="1.25"/>
<line x1="488.00" y1="638.60" x2="488.00" y2="642.20" stroke="#111" stroke-width="1.25"/>
<line x1="514.40" y1="638.60" x2="514.40" y2="642.20" stroke="#111" stroke-width="1.25"/>
<line x1="540.30" y1="638.60" x2="540.30" y2="642.20" stroke="#111" stroke-width="1.25"/>
<text x="89.10" y="659.90" font-size="11.2" text-anchor="middle" font-weight="normal" fill="#1A1A1A" stroke="#1A1A1A" stroke-width="0.25" >un</text>
<text x="115.35" y="659.90" font-size="11.2" text-anchor="middle" font-weight="normal" fill="#1A1A1A" stroke="#1A1A1A" stroke-width="0.25" >exp</text>
<text x="115.35" y="674.80" font-size="11.2" text-anchor="middle" font-weight="normal" fill="#1A1A1A" stroke="#1A1A1A" stroke-width="0.25" >uninf</text>
<text x="143.75" y="659.90" font-size="11.2" text-anchor="middle" font-weight="normal" fill="#1A1A1A" stroke="#1A1A1A" stroke-width="0.25" >inf</text>
<text x="168.60" y="659.90" font-size="11.2" text-anchor="middle" font-weight="normal" fill="#1A1A1A" stroke="#1A1A1A" stroke-width="0.25" >un</text>
<text x="194.90" y="659.90" font-size="11.2" text-anchor="middle" font-weight="normal" fill="#1A1A1A" stroke="#1A1A1A" stroke-width="0.25" >exp</text>
<text x="194.90" y="674.80" font-size="11.2" text-anchor="middle" font-weight="normal" fill="#1A1A1A" stroke="#1A1A1A" stroke-width="0.25" >uninf</text>
<text x="222.90" y="659.90" font-size="11.2" text-anchor="middle" font-weight="normal" fill="#1A1A1A" stroke="#1A1A1A" stroke-width="0.25" >inf</text>
<text x="248.20" y="659.90" font-size="11.2" text-anchor="middle" font-weight="normal" fill="#1A1A1A" stroke="#1A1A1A" stroke-width="0.25" >un</text>
<text x="274.60" y="659.90" font-size="11.2" text-anchor="middle" font-weight="normal" fill="#1A1A1A" stroke="#1A1A1A" stroke-width="0.25" >exp</text>
<text x="274.60" y="674.80" font-size="11.2" text-anchor="middle" font-weight="normal" fill="#1A1A1A" stroke="#1A1A1A" stroke-width="0.25" >uninf</text>
<text x="302.90" y="659.90" font-size="11.2" text-anchor="middle" font-weight="normal" fill="#1A1A1A" stroke="#1A1A1A" stroke-width="0.25" >inf</text>
<text x="329.00" y="659.90" font-size="11.2" text-anchor="middle" font-weight="normal" fill="#1A1A1A" stroke="#1A1A1A" stroke-width="0.25" >un</text>
<text x="355.50" y="659.90" font-size="11.2" text-anchor="middle" font-weight="normal" fill="#1A1A1A" stroke="#1A1A1A" stroke-width="0.25" >exp</text>
<text x="355.50" y="674.80" font-size="11.2" text-anchor="middle" font-weight="normal" fill="#1A1A1A" stroke="#1A1A1A" stroke-width="0.25" >uninf</text>
<text x="383.90" y="659.90" font-size="11.2" text-anchor="middle" font-weight="normal" fill="#1A1A1A" stroke="#1A1A1A" stroke-width="0.25" >inf</text>
<text x="410.10" y="659.90" font-size="11.2" text-anchor="middle" font-weight="normal" fill="#1A1A1A" stroke="#1A1A1A" stroke-width="0.25" >un</text>
<text x="436.80" y="659.90" font-size="11.2" text-anchor="middle" font-weight="normal" fill="#1A1A1A" stroke="#1A1A1A" stroke-width="0.25" >exp</text>
<text x="436.80" y="674.80" font-size="11.2" text-anchor="middle" font-weight="normal" fill="#1A1A1A" stroke="#1A1A1A" stroke-width="0.25" >uninf</text>
<text x="465.00" y="659.90" font-size="11.2" text-anchor="middle" font-weight="normal" fill="#1A1A1A" stroke="#1A1A1A" stroke-width="0.25" >inf</text>
<text x="489.10" y="659.90" font-size="11.2" text-anchor="middle" font-weight="normal" fill="#1A1A1A" stroke="#1A1A1A" stroke-width="0.25" >un</text>
<text x="515.80" y="659.90" font-size="11.2" text-anchor="middle" font-weight="normal" fill="#1A1A1A" stroke="#1A1A1A" stroke-width="0.25" >exp</text>
<text x="515.80" y="674.80" font-size="11.2" text-anchor="middle" font-weight="normal" fill="#1A1A1A" stroke="#1A1A1A" stroke-width="0.25" >uninf</text>
<text x="544.40" y="659.90" font-size="11.2" text-anchor="middle" font-weight="normal" fill="#1A1A1A" stroke="#1A1A1A" stroke-width="0.25" >inf</text>
<line x1="87.10" y1="690.20" x2="141.70" y2="690.20" stroke="#000" stroke-width="1.3"/>
<text x="115.35" y="703.00" font-size="11.8" text-anchor="middle" font-weight="bold" fill="#000" >B cell</text>
<line x1="168.30" y1="690.20" x2="222.10" y2="690.20" stroke="#000" stroke-width="1.3"/>
<text x="194.50" y="703.00" font-size="11.8" text-anchor="middle" font-weight="bold" fill="#000" >T cell</text>
<line x1="248.50" y1="690.20" x2="302.60" y2="690.20" stroke="#000" stroke-width="1.3"/>
<text x="273.40" y="703.00" font-size="11.8" text-anchor="middle" font-weight="bold" fill="#000" >ILC</text>
<line x1="326.20" y1="690.20" x2="380.30" y2="690.20" stroke="#000" stroke-width="1.3"/>
<text x="353.20" y="703.00" font-size="11.8" text-anchor="middle" font-weight="bold" fill="#000" >DC</text>
<line x1="407.70" y1="690.20" x2="461.80" y2="690.20" stroke="#000" stroke-width="1.3"/>
<text x="435.10" y="703.00" font-size="11.8" text-anchor="middle" font-weight="bold" fill="#000" >Mϕ</text>
<line x1="485.20" y1="690.20" x2="539.50" y2="690.20" stroke="#000" stroke-width="1.3"/>
<text x="513.60" y="703.00" font-size="11.8" text-anchor="middle" font-weight="bold" fill="#000" >Epi</text>
<circle cx="88.50" cy="443.20" r="0.90" fill="#222"/>
<circle cx="115.00" cy="443.20" r="4.55" fill="#7AA7D3" stroke="#333" stroke-width="0.8"/>
<circle cx="141.70" cy="443.20" r="6.00" fill="#FDBB6C" stroke="#333" stroke-width="0.8"/>
<circle cx="168.40" cy="443.20" r="0.90" fill="#222"/>
<circle cx="194.90" cy="443.20" r="4.55" fill="#7FA8D4" stroke="#333" stroke-width="0.8"/>
<circle cx="221.60" cy="443.20" r="6.00" fill="#F7A266" stroke="#333" stroke-width="0.8"/>
<circle cx="248.30" cy="443.20" r="0.90" fill="#222"/>
<circle cx="274.70" cy="443.20" r="4.80" fill="#86B1DA" stroke="#333" stroke-width="0.8"/>
<circle cx="301.40" cy="443.20" r="6.00" fill="#FEE08D" stroke="#333" stroke-width="0.8"/>
<circle cx="328.30" cy="443.20" r="0.90" fill="#222"/>
<circle cx="354.80" cy="443.20" r="5.50" fill="#88B6DA" stroke="#333" stroke-width="0.8"/>
<circle cx="381.40" cy="443.20" r="6.00" fill="#F47E4A" stroke="#333" stroke-width="0.8"/>
<circle cx="408.00" cy="443.20" r="0.90" fill="#222"/>
<circle cx="434.60" cy="443.20" r="4.40" fill="#86B0D8" stroke="#333" stroke-width="0.8"/>
<circle cx="490.30" cy="443.20" r="0.90" fill="#222"/>
<circle cx="517.00" cy="443.20" r="3.00" fill="#7FA9D5" stroke="#333" stroke-width="0.8"/>
<circle cx="88.50" cy="478.10" r="1.00" fill="#222"/>
<circle cx="115.00" cy="478.10" r="1.00" fill="#222"/>
<circle cx="141.70" cy="478.10" r="0.80" fill="#555" stroke="#333" stroke-width="0.8"/>
<circle cx="168.40" cy="478.10" r="0.70" fill="" stroke="#333" stroke-width="0.8"/>
<circle cx="194.90" cy="478.10" r="0.70" fill="" stroke="#333" stroke-width="0.8"/>
<circle cx="221.60" cy="478.10" r="0.80" fill="#555" stroke="#333" stroke-width="0.8"/>
<circle cx="248.30" cy="478.10" r="0.70" fill="" stroke="#333" stroke-width="0.8"/>
<circle cx="274.70" cy="478.10" r="0.70" fill="" stroke="#333" stroke-width="0.8"/>
<circle cx="301.40" cy="478.10" r="0.90" fill="#222"/>
<circle cx="328.30" cy="478.10" r="1.20" fill="#5B6E8A" stroke="#333" stroke-width="0.8"/>
<circle cx="354.80" cy="478.10" r="1.10" fill="#555" stroke="#333" stroke-width="0.8"/>
<circle cx="381.40" cy="478.10" r="1.60" fill="#F4F0B0" stroke="#333" stroke-width="0.8"/>
<circle cx="408.00" cy="478.10" r="1.40" fill="#A8B070" stroke="#333" stroke-width="0.8"/>
<circle cx="434.60" cy="478.10" r="2.00" fill="#D8392D" stroke="#333" stroke-width="0.8"/>
<circle cx="490.30" cy="478.10" r="0.80" fill="#222"/>
<circle cx="517.00" cy="478.10" r="0.80" fill="#222"/>
<circle cx="88.50" cy="513.10" r="0.80" fill="#222"/>
<circle cx="115.00" cy="513.10" r="0.80" fill="#222"/>
<circle cx="141.70" cy="513.10" r="0.80" fill="#222"/>
<circle cx="168.40" cy="513.10" r="0.90" fill="#222"/>
<circle cx="194.90" cy="513.10" r="0.80" fill="#222"/>
<circle cx="221.60" cy="513.10" r="0.90" fill="#222"/>
<circle cx="248.30" cy="513.10" r="1.00" fill="#222"/>
<circle cx="274.70" cy="513.10" r="1.00" fill="#222"/>
<circle cx="301.40" cy="513.10" r="0.80" fill="#222"/>
<circle cx="328.30" cy="513.10" r="1.00" fill="#222"/>
<circle cx="354.80" cy="513.10" r="0.80" fill="#222"/>
<circle cx="381.40" cy="513.10" r="0.70" fill="#222"/>
<circle cx="408.00" cy="513.10" r="1.20" fill="#C46B3E" stroke="#333" stroke-width="0.8"/>
<circle cx="434.60" cy="513.10" r="1.30" fill="#D0402E" stroke="#333" stroke-width="0.8"/>
<circle cx="490.30" cy="513.10" r="0.80" fill="#222"/>
<circle cx="517.00" cy="513.10" r="0.80" fill="#222"/>
<circle cx="88.50" cy="548.00" r="2.00" fill="#9CC3E2" stroke="#333" stroke-width="0.8"/>
<circle cx="115.00" cy="548.00" r="1.50" fill="#7899C0" stroke="#333" stroke-width="0.8"/>
<circle cx="141.70" cy="548.00" r="1.90" fill="#5C86C2" stroke="#333" stroke-width="0.8"/>
<circle cx="168.40" cy="548.00" r="1.90" fill="#6E96C9" stroke="#333" stroke-width="0.8"/>
<circle cx="194.90" cy="548.00" r="1.40" fill="#5A7FB5" stroke="#333" stroke-width="0.8"/>
<circle cx="221.60" cy="548.00" r="2.60" fill="#92BCE0" stroke="#333" stroke-width="0.8"/>
<circle cx="248.30" cy="548.00" r="3.90" fill="#FED889" stroke="#333" stroke-width="0.8"/>
<circle cx="274.70" cy="548.00" r="3.50" fill="#FEF3B4" stroke="#333" stroke-width="0.8"/>
<circle cx="301.40" cy="548.00" r="3.00" fill="#B3D6EC" stroke="#333" stroke-width="0.8"/>
<circle cx="328.30" cy="548.00" r="3.00" fill="#5E8BC8" stroke="#333" stroke-width="0.8"/>
<circle cx="354.80" cy="548.00" r="2.60" fill="#77A3D4" stroke="#333" stroke-width="0.8"/>
<circle cx="381.40" cy="548.00" r="4.80" fill="#E4F2EC" stroke="#333" stroke-width="0.8"/>
<circle cx="408.00" cy="548.00" r="2.80" fill="#FEE29A" stroke="#333" stroke-width="0.8"/>
<circle cx="434.60" cy="548.00" r="4.50" fill="#D93A2C" stroke="#333" stroke-width="0.8"/>
<circle cx="490.30" cy="548.00" r="1.90" fill="#8DB6DC" stroke="#333" stroke-width="0.8"/>
<circle cx="517.00" cy="548.00" r="1.60" fill="#6E98CE" stroke="#333" stroke-width="0.8"/>
<circle cx="88.50" cy="583.20" r="1.50" fill="#DDEFF3" stroke="#333" stroke-width="0.8"/>
<circle cx="115.00" cy="583.20" r="0.90" fill="#4F6B95" stroke="#333" stroke-width="0.8"/>
<circle cx="141.70" cy="583.20" r="1.20" fill="#4E77AE" stroke="#333" stroke-width="0.8"/>
<circle cx="168.40" cy="583.20" r="1.50" fill="#DDEFF3" stroke="#333" stroke-width="0.8"/>
<circle cx="194.90" cy="583.20" r="1.00" fill="#4F6B95" stroke="#333" stroke-width="0.8"/>
<circle cx="221.60" cy="583.20" r="1.50" fill="#A6CBE6" stroke="#333" stroke-width="0.8"/>
<circle cx="248.30" cy="583.20" r="2.00" fill="#D7ECF3" stroke="#333" stroke-width="0.8"/>
<circle cx="274.70" cy="583.20" r="1.80" fill="#BFDFEE" stroke="#333" stroke-width="0.8"/>
<circle cx="301.40" cy="583.20" r="1.20" fill="#4E77AE" stroke="#333" stroke-width="0.8"/>
<circle cx="328.30" cy="583.20" r="2.70" fill="#A9CBE6" stroke="#333" stroke-width="0.8"/>
<circle cx="354.80" cy="583.20" r="1.70" fill="#6F9AD0" stroke="#333" stroke-width="0.8"/>
<circle cx="381.40" cy="583.20" r="3.90" fill="#F1F6D2" stroke="#333" stroke-width="0.8"/>
<circle cx="408.00" cy="583.20" r="2.20" fill="#FEDC8E" stroke="#333" stroke-width="0.8"/>
<circle cx="434.60" cy="583.20" r="3.70" fill="#DA3028" stroke="#333" stroke-width="0.8"/>
<circle cx="490.30" cy="583.20" r="1.20" fill="#A9CBE6" stroke="#333" stroke-width="0.8"/>
<circle cx="517.00" cy="583.20" r="1.20" fill="#7A9FD0" stroke="#333" stroke-width="0.8"/>
<circle cx="88.50" cy="617.90" r="0.80" fill="#222"/>
<circle cx="115.00" cy="617.90" r="0.80" fill="#222"/>
<circle cx="141.70" cy="617.90" r="0.70" fill="#222"/>
<circle cx="168.40" cy="617.90" r="0.80" fill="#222"/>
<circle cx="194.90" cy="617.90" r="0.80" fill="#222"/>
<circle cx="221.60" cy="617.90" r="0.70" fill="#222"/>
<circle cx="248.30" cy="617.90" r="0.80" fill="#222"/>
<circle cx="274.70" cy="617.90" r="0.80" fill="#222"/>
<circle cx="301.40" cy="617.90" r="0.70" fill="#222"/>
<circle cx="328.30" cy="617.90" r="1.00" fill="#222"/>
<circle cx="354.80" cy="617.90" r="0.80" fill="#222"/>
<circle cx="381.40" cy="617.90" r="0.70" fill="#222"/>
<circle cx="408.00" cy="617.90" r="2.50" fill="#FBF5C8" stroke="#333" stroke-width="0.8"/>
<circle cx="434.60" cy="617.90" r="3.00" fill="#D83228" stroke="#333" stroke-width="0.8"/>
<circle cx="490.30" cy="617.90" r="1.20" fill="#EEF6F6" stroke="#333" stroke-width="0.8"/>
<circle cx="517.00" cy="617.90" r="0.70" fill="#444" stroke="#333" stroke-width="0.8"/>
<text x="562.80" y="433.00" font-size="11.65" text-anchor="start" font-weight="normal" fill="#000" stroke="#000" stroke-width="0.25" >Percent</text>
<text x="562.80" y="443.40" font-size="11.65" text-anchor="start" font-weight="normal" fill="#000" stroke="#000" stroke-width="0.25" >Expressed</text>
<circle cx="570.00" cy="454.20" r="0.50" fill="#000"/>
<text x="583.70" y="457.60" font-size="9.6" text-anchor="start" font-weight="normal" fill="#000" stroke="#000" stroke-width="0.25" >0</text>
<circle cx="570.00" cy="466.20" r="1.70" fill="#000"/>
<text x="583.70" y="469.60" font-size="9.6" text-anchor="start" font-weight="normal" fill="#000" stroke="#000" stroke-width="0.25" >25</text>
<circle cx="570.00" cy="478.00" r="3.30" fill="#000"/>
<text x="583.70" y="481.40" font-size="9.6" text-anchor="start" font-weight="normal" fill="#000" stroke="#000" stroke-width="0.25" >50</text>
<circle cx="570.00" cy="492.20" r="5.00" fill="#000"/>
<text x="583.70" y="495.60" font-size="9.6" text-anchor="start" font-weight="normal" fill="#000" stroke="#000" stroke-width="0.25" >75</text>
<circle cx="570.00" cy="507.20" r="6.40" fill="#000"/>
<text x="583.70" y="510.60" font-size="9.6" text-anchor="start" font-weight="normal" fill="#000" stroke="#000" stroke-width="0.25" >100</text>
<text x="562.80" y="547.80" font-size="11.65" text-anchor="start" font-weight="normal" fill="#000" stroke="#000" stroke-width="0.25" >Average</text>
<text x="562.80" y="558.70" font-size="11.65" text-anchor="start" font-weight="normal" fill="#000" stroke="#000" stroke-width="0.25" >Expression</text>
<defs><linearGradient id="cg" x1="0" y1="1" x2="0" y2="0">
<stop offset="0" stop-color="#4575B4"/><stop offset="0.143" stop-color="#91BFDB"/><stop offset="0.286" stop-color="#E0F3F8"/>
<stop offset="0.43" stop-color="#FFFFBF"/><stop offset="0.571" stop-color="#FEE090"/><stop offset="0.714" stop-color="#FDAE61"/>
<stop offset="0.857" stop-color="#F46D43"/><stop offset="1" stop-color="#D73027"/></linearGradient></defs>
<rect x="564.20" y="565.80" width="13.80" height="70.50" fill="url(#cg)" stroke="#8C8C8C" stroke-width="0.6"/>
<line x1="564.20" y1="575.00" x2="566.80" y2="575.00" stroke="#555" stroke-width="0.8"/>
<line x1="575.40" y1="575.00" x2="578.00" y2="575.00" stroke="#555" stroke-width="0.8"/>
<text x="582.50" y="578.40" font-size="9.6" text-anchor="start" font-weight="normal" fill="#000" stroke="#000" stroke-width="0.25" >2</text>
<line x1="564.20" y1="595.30" x2="566.80" y2="595.30" stroke="#555" stroke-width="0.8"/>
<line x1="575.40" y1="595.30" x2="578.00" y2="595.30" stroke="#555" stroke-width="0.8"/>
<text x="582.50" y="598.70" font-size="9.6" text-anchor="start" font-weight="normal" fill="#000" stroke="#000" stroke-width="0.25" >1</text>
<line x1="564.20" y1="615.30" x2="566.80" y2="615.30" stroke="#555" stroke-width="0.8"/>
<line x1="575.40" y1="615.30" x2="578.00" y2="615.30" stroke="#555" stroke-width="0.8"/>
<text x="582.50" y="618.70" font-size="9.6" text-anchor="start" font-weight="normal" fill="#000" stroke="#000" stroke-width="0.25" >0</text>
<line x1="564.20" y1="635.00" x2="566.80" y2="635.00" stroke="#555" stroke-width="0.8"/>
<line x1="575.40" y1="635.00" x2="578.00" y2="635.00" stroke="#555" stroke-width="0.8"/>
<text x="582.50" y="638.40" font-size="9.6" text-anchor="start" font-weight="normal" fill="#000" stroke="#000" stroke-width="0.25" >−1</text>
<text x="644.20" y="411.50" font-size="17" text-anchor="start" font-weight="bold" fill="#000" >D</text>
<rect x="682.00" y="425.20" width="93.60" height="118.30" fill="none" stroke="#9A9A9A" stroke-width="1.0"/>
<line x1="682.00" y1="425.20" x2="682.00" y2="543.50" stroke="#9A9A9A" stroke-width="1.3"/>
<line x1="681.40" y1="543.50" x2="775.60" y2="543.50" stroke="#000" stroke-width="1.5"/>
<line x1="679.80" y1="538.40" x2="682.00" y2="538.40" stroke="#000" stroke-width="1.0"/>
<text x="678.00" y="541.20" font-size="10.6" text-anchor="end" font-weight="normal" fill="#000" stroke="#000" stroke-width="0.25" >0</text>
<line x1="679.80" y1="502.06" x2="682.00" y2="502.06" stroke="#000" stroke-width="1.0"/>
<text x="678.00" y="504.86" font-size="10.6" text-anchor="end" font-weight="normal" fill="#000" stroke="#000" stroke-width="0.25" >2</text>
<line x1="679.80" y1="465.72" x2="682.00" y2="465.72" stroke="#000" stroke-width="1.0"/>
<text x="678.00" y="468.52" font-size="10.6" text-anchor="end" font-weight="normal" fill="#000" stroke="#000" stroke-width="0.25" >4</text>
<line x1="679.80" y1="429.38" x2="682.00" y2="429.38" stroke="#000" stroke-width="1.0"/>
<text x="678.00" y="432.18" font-size="10.6" text-anchor="end" font-weight="normal" fill="#000" stroke="#000" stroke-width="0.25" >6</text>
<line x1="707.20" y1="543.50" x2="707.20" y2="546.30" stroke="#000" stroke-width="1.0"/>
<line x1="749.80" y1="543.50" x2="749.80" y2="546.30" stroke="#000" stroke-width="1.0"/>
<text x="728.80" y="423.20" font-size="11.8" text-anchor="middle" font-weight="normal" fill="#000" stroke="#000" stroke-width="0.25" >HIV-NL-CI</text>
<rect x="808.80" y="425.20" width="93.70" height="118.30" fill="none" stroke="#9A9A9A" stroke-width="1.0"/>
<line x1="808.80" y1="425.20" x2="808.80" y2="543.50" stroke="#9A9A9A" stroke-width="1.3"/>
<line x1="808.20" y1="543.50" x2="902.50" y2="543.50" stroke="#000" stroke-width="1.5"/>
<line x1="806.60" y1="538.10" x2="808.80" y2="538.10" stroke="#000" stroke-width="1.0"/>
<text x="803.60" y="540.90" font-size="10.6" text-anchor="end" font-weight="normal" fill="#000" stroke="#000" stroke-width="0.25" >0.0</text>
<line x1="806.60" y1="503.00" x2="808.80" y2="503.00" stroke="#000" stroke-width="1.0"/>
<text x="803.60" y="505.80" font-size="10.6" text-anchor="end" font-weight="normal" fill="#000" stroke="#000" stroke-width="0.25" >0.5</text>
<line x1="806.60" y1="467.90" x2="808.80" y2="467.90" stroke="#000" stroke-width="1.0"/>
<text x="803.60" y="470.70" font-size="10.6" text-anchor="end" font-weight="normal" fill="#000" stroke="#000" stroke-width="0.25" >1.0</text>
<line x1="806.60" y1="432.80" x2="808.80" y2="432.80" stroke="#000" stroke-width="1.0"/>
<text x="803.60" y="435.60" font-size="10.6" text-anchor="end" font-weight="normal" fill="#000" stroke="#000" stroke-width="0.25" >1.5</text>
<line x1="834.00" y1="543.50" x2="834.00" y2="546.30" stroke="#000" stroke-width="1.0"/>
<line x1="876.60" y1="543.50" x2="876.60" y2="546.30" stroke="#000" stroke-width="1.0"/>
<text x="855.65" y="423.20" font-size="11.8" text-anchor="middle" font-weight="normal" fill="#000" stroke="#000" stroke-width="0.25" >P2RX7</text>
<rect x="935.30" y="425.20" width="93.30" height="118.30" fill="none" stroke="#9A9A9A" stroke-width="1.0"/>
<line x1="935.30" y1="425.20" x2="935.30" y2="543.50" stroke="#9A9A9A" stroke-width="1.3"/>
<line x1="934.70" y1="543.50" x2="1028.60" y2="543.50" stroke="#000" stroke-width="1.5"/>
<line x1="933.10" y1="538.10" x2="935.30" y2="538.10" stroke="#000" stroke-width="1.0"/>
<text x="929.90" y="540.90" font-size="10.6" text-anchor="end" font-weight="normal" fill="#000" stroke="#000" stroke-width="0.25" >0.0</text>
<line x1="933.10" y1="503.30" x2="935.30" y2="503.30" stroke="#000" stroke-width="1.0"/>
<text x="929.90" y="506.10" font-size="10.6" text-anchor="end" font-weight="normal" fill="#000" stroke="#000" stroke-width="0.25" >0.5</text>
<line x1="933.10" y1="468.50" x2="935.30" y2="468.50" stroke="#000" stroke-width="1.0"/>
<text x="929.90" y="471.30" font-size="10.6" text-anchor="end" font-weight="normal" fill="#000" stroke="#000" stroke-width="0.25" >1.0</text>
<line x1="933.10" y1="433.70" x2="935.30" y2="433.70" stroke="#000" stroke-width="1.0"/>
<text x="929.90" y="436.50" font-size="10.6" text-anchor="end" font-weight="normal" fill="#000" stroke="#000" stroke-width="0.25" >1.5</text>
<line x1="960.50" y1="543.50" x2="960.50" y2="546.30" stroke="#000" stroke-width="1.0"/>
<line x1="1003.10" y1="543.50" x2="1003.10" y2="546.30" stroke="#000" stroke-width="1.0"/>
<text x="981.95" y="423.20" font-size="11.8" text-anchor="middle" font-weight="normal" fill="#000" stroke="#000" stroke-width="0.25" >NLRP3</text>
<rect x="682.50" y="569.30" width="93.20" height="117.30" fill="none" stroke="#9A9A9A" stroke-width="1.0"/>
<line x1="682.50" y1="569.30" x2="682.50" y2="686.60" stroke="#9A9A9A" stroke-width="1.3"/>
<line x1="681.90" y1="686.60" x2="775.70" y2="686.60" stroke="#000" stroke-width="1.5"/>
<line x1="680.30" y1="681.30" x2="682.50" y2="681.30" stroke="#000" stroke-width="1.0"/>
<text x="679.10" y="684.10" font-size="10.6" text-anchor="end" font-weight="normal" fill="#000" stroke="#000" stroke-width="0.25" >0.0</text>
<line x1="680.30" y1="660.15" x2="682.50" y2="660.15" stroke="#000" stroke-width="1.0"/>
<text x="679.10" y="662.95" font-size="10.6" text-anchor="end" font-weight="normal" fill="#000" stroke="#000" stroke-width="0.25" >0.5</text>
<line x1="680.30" y1="639.00" x2="682.50" y2="639.00" stroke="#000" stroke-width="1.0"/>
<text x="679.10" y="641.80" font-size="10.6" text-anchor="end" font-weight="normal" fill="#000" stroke="#000" stroke-width="0.25" >1.0</text>
<line x1="680.30" y1="617.85" x2="682.50" y2="617.85" stroke="#000" stroke-width="1.0"/>
<text x="679.10" y="620.65" font-size="10.6" text-anchor="end" font-weight="normal" fill="#000" stroke="#000" stroke-width="0.25" >1.5</text>
<line x1="680.30" y1="596.70" x2="682.50" y2="596.70" stroke="#000" stroke-width="1.0"/>
<text x="679.10" y="599.50" font-size="10.6" text-anchor="end" font-weight="normal" fill="#000" stroke="#000" stroke-width="0.25" >2.0</text>
<line x1="680.30" y1="575.55" x2="682.50" y2="575.55" stroke="#000" stroke-width="1.0"/>
<text x="679.10" y="578.35" font-size="10.6" text-anchor="end" font-weight="normal" fill="#000" stroke="#000" stroke-width="0.25" >2.5</text>
<line x1="707.70" y1="686.60" x2="707.70" y2="689.40" stroke="#000" stroke-width="1.0"/>
<line x1="750.30" y1="686.60" x2="750.30" y2="689.40" stroke="#000" stroke-width="1.0"/>
<text x="729.10" y="567.30" font-size="11.8" text-anchor="middle" font-weight="normal" fill="#000" stroke="#000" stroke-width="0.25" >PYCARD</text>
<rect x="808.80" y="569.30" width="93.70" height="117.30" fill="none" stroke="#9A9A9A" stroke-width="1.0"/>
<line x1="808.80" y1="569.30" x2="808.80" y2="686.60" stroke="#9A9A9A" stroke-width="1.3"/>
<line x1="808.20" y1="686.60" x2="902.50" y2="686.60" stroke="#000" stroke-width="1.5"/>
<line x1="806.60" y1="681.30" x2="808.80" y2="681.30" stroke="#000" stroke-width="1.0"/>
<text x="803.70" y="684.10" font-size="10.6" text-anchor="end" font-weight="normal" fill="#000" stroke="#000" stroke-width="0.25" >0.0</text>
<line x1="806.60" y1="657.92" x2="808.80" y2="657.92" stroke="#000" stroke-width="1.0"/>
<text x="803.70" y="660.72" font-size="10.6" text-anchor="end" font-weight="normal" fill="#000" stroke="#000" stroke-width="0.25" >0.5</text>
<line x1="806.60" y1="634.55" x2="808.80" y2="634.55" stroke="#000" stroke-width="1.0"/>
<text x="803.70" y="637.35" font-size="10.6" text-anchor="end" font-weight="normal" fill="#000" stroke="#000" stroke-width="0.25" >1.0</text>
<line x1="806.60" y1="611.17" x2="808.80" y2="611.17" stroke="#000" stroke-width="1.0"/>
<text x="803.70" y="613.97" font-size="10.6" text-anchor="end" font-weight="normal" fill="#000" stroke="#000" stroke-width="0.25" >1.5</text>
<line x1="806.60" y1="587.80" x2="808.80" y2="587.80" stroke="#000" stroke-width="1.0"/>
<text x="803.70" y="590.60" font-size="10.6" text-anchor="end" font-weight="normal" fill="#000" stroke="#000" stroke-width="0.25" >2.0</text>
<line x1="834.00" y1="686.60" x2="834.00" y2="689.40" stroke="#000" stroke-width="1.0"/>
<line x1="876.60" y1="686.60" x2="876.60" y2="689.40" stroke="#000" stroke-width="1.0"/>
<text x="855.65" y="567.30" font-size="11.8" text-anchor="middle" font-weight="normal" fill="#000" stroke="#000" stroke-width="0.25" >CASP1</text>
<rect x="934.80" y="569.30" width="93.80" height="117.30" fill="none" stroke="#9A9A9A" stroke-width="1.0"/>
<line x1="934.80" y1="569.30" x2="934.80" y2="686.60" stroke="#9A9A9A" stroke-width="1.3"/>
<line x1="934.20" y1="686.60" x2="1028.60" y2="686.60" stroke="#000" stroke-width="1.5"/>
<line x1="932.60" y1="681.30" x2="934.80" y2="681.30" stroke="#000" stroke-width="1.0"/>
<text x="930.90" y="684.10" font-size="10.6" text-anchor="end" font-weight="normal" fill="#000" stroke="#000" stroke-width="0.25" >0</text>
<line x1="932.60" y1="643.30" x2="934.80" y2="643.30" stroke="#000" stroke-width="1.0"/>
<text x="930.90" y="646.10" font-size="10.6" text-anchor="end" font-weight="normal" fill="#000" stroke="#000" stroke-width="0.25" >2</text>
<line x1="932.60" y1="605.30" x2="934.80" y2="605.30" stroke="#000" stroke-width="1.0"/>
<text x="930.90" y="608.10" font-size="10.6" text-anchor="end" font-weight="normal" fill="#000" stroke="#000" stroke-width="0.25" >4</text>
<line x1="960.00" y1="686.60" x2="960.00" y2="689.40" stroke="#000" stroke-width="1.0"/>
<line x1="1002.60" y1="686.60" x2="1002.60" y2="689.40" stroke="#000" stroke-width="1.0"/>
<text x="981.70" y="567.30" font-size="11.8" text-anchor="middle" font-weight="normal" fill="#000" stroke="#000" stroke-width="0.25" >IL1B</text>
<text transform="translate(660.5,484.4) rotate(-90)" font-size="11.7" text-anchor="middle" stroke="#000" stroke-width="0.25">Expression Level</text>
<text transform="translate(660.5,625.6) rotate(-90)" font-size="11.7" text-anchor="middle" stroke="#000" stroke-width="0.25">Expression Level</text>
<text x="704.10" y="700.00" font-size="11.4" text-anchor="middle" font-weight="normal" fill="#000" stroke="#000" stroke-width="0.25" >un</text>
<text x="743.50" y="700.00" font-size="11.4" text-anchor="middle" font-weight="normal" fill="#000" stroke="#000" stroke-width="0.25" >exp</text>
<text x="743.50" y="712.40" font-size="11.4" text-anchor="middle" font-weight="normal" fill="#000" stroke="#000" stroke-width="0.25" >uninf</text>
<text x="830.40" y="700.00" font-size="11.4" text-anchor="middle" font-weight="normal" fill="#000" stroke="#000" stroke-width="0.25" >un</text>
<text x="869.80" y="700.00" font-size="11.4" text-anchor="middle" font-weight="normal" fill="#000" stroke="#000" stroke-width="0.25" >exp</text>
<text x="869.80" y="712.40" font-size="11.4" text-anchor="middle" font-weight="normal" fill="#000" stroke="#000" stroke-width="0.25" >uninf</text>
<text x="956.40" y="700.00" font-size="11.4" text-anchor="middle" font-weight="normal" fill="#000" stroke="#000" stroke-width="0.25" >un</text>
<text x="995.80" y="700.00" font-size="11.4" text-anchor="middle" font-weight="normal" fill="#000" stroke="#000" stroke-width="0.25" >exp</text>
<text x="995.80" y="712.40" font-size="11.4" text-anchor="middle" font-weight="normal" fill="#000" stroke="#000" stroke-width="0.25" >uninf</text>
<line x1="688.10" y1="538.40" x2="726.70" y2="538.40" stroke="#111" stroke-width="1.8"/>
<path d="M733.60,538.40 L766.00,538.40 C766.03,537.33 766.12,533.90 766.20,532.00 C766.28,530.10 766.23,528.90 766.50,527.00 C766.77,525.10 767.37,522.57 767.80,520.60 C768.23,518.63 769.02,517.00 769.10,515.20 C769.18,513.40 768.82,511.45 768.30,509.80 C767.78,508.15 767.05,507.27 766.00,505.30 C764.95,503.33 763.35,500.72 762.00,498.00 C760.65,495.28 759.07,492.00 757.90,489.00 C756.73,486.00 755.95,482.67 755.00,480.00 C754.05,477.33 752.87,475.17 752.20,473.00 C751.53,470.83 751.27,469.17 751.00,467.00 C750.73,464.83 750.67,462.83 750.60,460.00 C750.52,457.17 750.52,453.33 750.55,450.00 C750.58,446.67 750.67,442.67 750.80,440.00 C750.92,437.33 751.20,435.60 751.30,434.00 C751.40,432.40 751.38,431.00 751.40,430.40 L748.20,430.40 C748.22,431.00 748.20,432.40 748.30,434.00 C748.40,435.60 748.67,437.33 748.80,440.00 C748.92,442.67 749.02,446.67 749.05,450.00 C749.08,453.33 749.08,457.17 749.00,460.00 C748.92,462.83 748.87,464.83 748.60,467.00 C748.33,469.17 748.07,470.83 747.40,473.00 C746.73,475.17 745.55,477.33 744.60,480.00 C743.65,482.67 742.87,486.00 741.70,489.00 C740.53,492.00 738.95,495.28 737.60,498.00 C736.25,500.72 734.65,503.33 733.60,505.30 C732.55,507.27 731.82,508.15 731.30,509.80 C730.78,511.45 730.42,513.40 730.50,515.20 C730.58,517.00 731.37,518.63 731.80,520.60 C732.23,522.57 732.83,525.10 733.10,527.00 C733.37,528.90 733.32,530.10 733.40,532.00 C733.48,533.90 733.57,537.33 733.60,538.40Z" fill="#34A67F" stroke="#1a1a1a" stroke-width="1.35" stroke-linejoin="round"/>
<line x1="814.20" y1="538.10" x2="854.10" y2="538.10" stroke="#111" stroke-width="1.7"/>
<line x1="833.90" y1="538.10" x2="833.90" y2="430.40" stroke="#222" stroke-width="1.4"/>
<line x1="856.50" y1="538.10" x2="896.10" y2="538.10" stroke="#111" stroke-width="1.7"/>
<line x1="876.40" y1="538.10" x2="876.40" y2="445.10" stroke="#222" stroke-width="1.4"/>
<line x1="941.20" y1="538.10" x2="979.90" y2="538.10" stroke="#111" stroke-width="1.7"/>
<line x1="960.70" y1="538.10" x2="960.70" y2="435.60" stroke="#222" stroke-width="1.4"/>
<line x1="984.00" y1="538.10" x2="1022.40" y2="538.10" stroke="#111" stroke-width="1.7"/>
<line x1="1002.90" y1="538.10" x2="1002.90" y2="430.40" stroke="#222" stroke-width="1.4"/>
<path d="M688.30,681.30 L727.30,681.30 C727.22,680.83 727.13,679.38 726.80,678.50 C726.47,677.62 726.05,677.00 725.30,676.00 C724.55,675.00 723.30,673.63 722.30,672.50 C721.30,671.37 720.38,670.20 719.30,669.20 C718.22,668.20 716.75,667.37 715.80,666.50 C714.85,665.63 714.07,665.42 713.60,664.00 C713.13,662.58 713.07,660.67 713.00,658.00 C712.93,655.33 713.00,651.33 713.20,648.00 C713.40,644.67 713.83,641.00 714.20,638.00 C714.57,635.00 715.13,632.62 715.40,630.00 C715.67,627.38 715.83,624.80 715.80,622.30 C715.77,619.80 715.50,616.97 715.20,615.00 C714.90,613.03 714.40,611.75 714.00,610.50 C713.60,609.25 713.07,608.13 712.80,607.50 C712.53,606.87 712.47,606.83 712.40,606.70 L703.20,606.70 C703.13,606.83 703.07,606.87 702.80,607.50 C702.53,608.13 702.00,609.25 701.60,610.50 C701.20,611.75 700.70,613.03 700.40,615.00 C700.10,616.97 699.83,619.80 699.80,622.30 C699.77,624.80 699.93,627.38 700.20,630.00 C700.47,632.62 701.03,635.00 701.40,638.00 C701.77,641.00 702.20,644.67 702.40,648.00 C702.60,651.33 702.67,655.33 702.60,658.00 C702.53,660.67 702.47,662.58 702.00,664.00 C701.53,665.42 700.75,665.63 699.80,666.50 C698.85,667.37 697.38,668.20 696.30,669.20 C695.22,670.20 694.30,671.37 693.30,672.50 C692.30,673.63 691.05,675.00 690.30,676.00 C689.55,677.00 689.13,677.62 688.80,678.50 C688.47,679.38 688.38,680.83 688.30,681.30Z" fill="#F1DFB6" stroke="#1a1a1a" stroke-width="1.35" stroke-linejoin="round"/>
<path d="M734.40,681.30 L766.20,681.30 C766.20,680.25 766.25,677.02 766.20,675.00 C766.15,672.98 766.17,671.70 765.90,669.20 C765.63,666.70 764.87,662.62 764.60,660.00 C764.33,657.38 763.93,656.02 764.30,653.50 C764.67,650.98 765.93,648.08 766.80,644.90 C767.67,641.72 769.52,638.17 769.50,634.40 C769.48,630.63 768.28,626.63 766.70,622.30 C765.12,617.97 761.73,612.12 760.00,608.40 C758.27,604.68 757.45,602.90 756.30,600.00 C755.15,597.10 753.87,594.00 753.10,591.00 C752.33,588.00 752.00,584.83 751.70,582.00 C751.40,579.17 751.37,575.33 751.30,574.00 L749.30,574.00 C749.23,575.33 749.20,579.17 748.90,582.00 C748.60,584.83 748.27,588.00 747.50,591.00 C746.73,594.00 745.45,597.10 744.30,600.00 C743.15,602.90 742.33,604.68 740.60,608.40 C738.87,612.12 735.48,617.97 733.90,622.30 C732.32,626.63 731.12,630.63 731.10,634.40 C731.08,638.17 732.93,641.72 733.80,644.90 C734.67,648.08 735.93,650.98 736.30,653.50 C736.67,656.02 736.27,657.38 736.00,660.00 C735.73,662.62 734.97,666.70 734.70,669.20 C734.43,671.70 734.45,672.98 734.40,675.00 C734.35,677.02 734.40,680.25 734.40,681.30Z" fill="#34A67F" stroke="#1a1a1a" stroke-width="1.35" stroke-linejoin="round"/>
<path d="M814.80,681.30 L853.80,681.30 C853.47,680.92 852.67,679.72 851.80,679.00 C850.93,678.28 850.22,677.77 848.60,677.00 C846.98,676.23 843.73,675.42 842.10,674.40 C840.47,673.38 839.53,672.35 838.80,670.90 C838.07,669.45 838.00,668.88 837.70,665.70 C837.40,662.52 837.15,657.02 837.00,651.80 C836.85,646.58 836.72,638.73 836.80,634.40 C836.88,630.07 837.50,628.10 837.50,625.80 C837.50,623.50 837.03,622.63 836.80,620.60 C836.57,618.57 836.27,615.92 836.10,613.60 C835.93,611.28 835.85,607.85 835.80,606.70 L832.80,606.70 C832.75,607.85 832.67,611.28 832.50,613.60 C832.33,615.92 832.03,618.57 831.80,620.60 C831.57,622.63 831.10,623.50 831.10,625.80 C831.10,628.10 831.72,630.07 831.80,634.40 C831.88,638.73 831.75,646.58 831.60,651.80 C831.45,657.02 831.20,662.52 830.90,665.70 C830.60,668.88 830.53,669.45 829.80,670.90 C829.07,672.35 828.13,673.38 826.50,674.40 C824.87,675.42 821.62,676.23 820.00,677.00 C818.38,677.77 817.67,678.28 816.80,679.00 C815.93,679.72 815.13,680.92 814.80,681.30Z" fill="#F1DFB6" stroke="#1a1a1a" stroke-width="1.35" stroke-linejoin="round"/>
<path d="M857.40,681.30 L896.20,681.30 C896.17,680.58 896.17,678.45 896.00,677.00 C895.83,675.55 895.77,674.20 895.20,672.60 C894.63,671.00 893.23,669.70 892.60,667.40 C891.97,665.10 891.62,661.40 891.40,658.80 C891.18,656.20 891.57,654.42 891.30,651.80 C891.03,649.18 890.55,646.00 889.80,643.10 C889.05,640.20 888.17,637.28 886.80,634.40 C885.43,631.52 882.85,628.68 881.60,625.80 C880.35,622.92 879.83,621.45 879.30,617.10 C878.77,612.75 878.58,605.05 878.40,599.70 C878.22,594.35 878.25,589.28 878.20,585.00 C878.15,580.72 878.12,575.83 878.10,574.00 L875.50,574.00 C875.48,575.83 875.45,580.72 875.40,585.00 C875.35,589.28 875.38,594.35 875.20,599.70 C875.02,605.05 874.83,612.75 874.30,617.10 C873.77,621.45 873.25,622.92 872.00,625.80 C870.75,628.68 868.17,631.52 866.80,634.40 C865.43,637.28 864.55,640.20 863.80,643.10 C863.05,646.00 862.57,649.18 862.30,651.80 C862.03,654.42 862.42,656.20 862.20,658.80 C861.98,661.40 861.63,665.10 861.00,667.40 C860.37,669.70 858.97,671.00 858.40,672.60 C857.83,674.20 857.77,675.55 857.60,677.00 C857.43,678.45 857.43,680.58 857.40,681.30Z" fill="#34A67F" stroke="#1a1a1a" stroke-width="1.35" stroke-linejoin="round"/>
<path d="M941.10,681.30 L980.10,681.30 C979.93,680.83 979.63,679.37 979.10,678.50 C978.57,677.63 978.10,677.08 976.90,676.10 C975.70,675.12 973.37,673.75 971.90,672.60 C970.43,671.45 969.17,670.63 968.10,669.20 C967.03,667.77 966.00,666.32 965.50,664.00 C965.00,661.68 965.22,658.78 965.10,655.30 C964.98,651.82 964.88,646.58 964.80,643.10 C964.72,639.62 964.72,637.28 964.60,634.40 C964.48,631.52 964.35,628.68 964.10,625.80 C963.85,622.92 963.38,620.00 963.10,617.10 C962.82,614.20 962.57,610.67 962.40,608.40 C962.23,606.13 962.15,604.32 962.10,603.50 L959.10,603.50 C959.05,604.32 958.97,606.13 958.80,608.40 C958.63,610.67 958.38,614.20 958.10,617.10 C957.82,620.00 957.35,622.92 957.10,625.80 C956.85,628.68 956.72,631.52 956.60,634.40 C956.48,637.28 956.48,639.62 956.40,643.10 C956.32,646.58 956.22,651.82 956.10,655.30 C955.98,658.78 956.20,661.68 955.70,664.00 C955.20,666.32 954.17,667.77 953.10,669.20 C952.03,670.63 950.77,671.45 949.30,672.60 C947.83,673.75 945.50,675.12 944.30,676.10 C943.10,677.08 942.63,677.63 942.10,678.50 C941.57,679.37 941.27,680.83 941.10,681.30Z" fill="#F1DFB6" stroke="#1a1a1a" stroke-width="1.35" stroke-linejoin="round"/>
<path d="M983.50,681.30 L1022.10,681.30 C1022.05,680.75 1021.93,679.15 1021.80,678.00 C1021.67,676.85 1021.77,675.87 1021.30,674.40 C1020.83,672.93 1020.02,671.23 1019.00,669.20 C1017.98,667.17 1016.48,665.10 1015.20,662.20 C1013.92,659.30 1012.28,654.98 1011.30,651.80 C1010.32,648.62 1009.88,646.00 1009.30,643.10 C1008.72,640.20 1008.30,637.28 1007.80,634.40 C1007.30,631.52 1006.80,628.68 1006.30,625.80 C1005.80,622.92 1005.13,619.42 1004.80,617.10 C1004.47,614.78 1004.30,613.92 1004.30,611.90 C1004.30,609.88 1004.63,607.03 1004.80,605.00 C1004.97,602.97 1005.13,602.03 1005.30,599.70 C1005.47,597.37 1005.80,593.88 1005.80,591.00 C1005.80,588.12 1005.50,585.15 1005.30,582.40 C1005.10,579.65 1004.72,575.82 1004.60,574.50 L1001.00,574.50 C1000.88,575.82 1000.50,579.65 1000.30,582.40 C1000.10,585.15 999.80,588.12 999.80,591.00 C999.80,593.88 1000.13,597.37 1000.30,599.70 C1000.47,602.03 1000.63,602.97 1000.80,605.00 C1000.97,607.03 1001.30,609.88 1001.30,611.90 C1001.30,613.92 1001.13,614.78 1000.80,617.10 C1000.47,619.42 999.80,622.92 999.30,625.80 C998.80,628.68 998.30,631.52 997.80,634.40 C997.30,637.28 996.88,640.20 996.30,643.10 C995.72,646.00 995.28,648.62 994.30,651.80 C993.32,654.98 991.68,659.30 990.40,662.20 C989.12,665.10 987.62,667.17 986.60,669.20 C985.58,671.23 984.77,672.93 984.30,674.40 C983.83,675.87 983.93,676.85 983.80,678.00 C983.67,679.15 983.55,680.75 983.50,681.30Z" fill="#34A67F" stroke="#1a1a1a" stroke-width="1.35" stroke-linejoin="round"/>
<rect x="763.00" y="430.05" width="1.50" height="1.50" fill="#111" stroke="none" stroke-width="1"/>
<rect x="734.25" y="475.95" width="1.50" height="1.50" fill="#111" stroke="none" stroke-width="1"/>
<rect x="739.05" y="481.15" width="1.50" height="1.50" fill="#111" stroke="none" stroke-width="1"/>
<rect x="740.50" y="485.25" width="1.50" height="1.50" fill="#111" stroke="none" stroke-width="1"/>
<rect x="758.45" y="481.15" width="1.50" height="1.50" fill="#111" stroke="none" stroke-width="1"/>
<rect x="745.25" y="489.05" width="1.50" height="1.50" fill="#111" stroke="none" stroke-width="1"/>
<rect x="746.75" y="494.65" width="1.50" height="1.50" fill="#111" stroke="none" stroke-width="1"/>
<rect x="763.00" y="495.75" width="1.50" height="1.50" fill="#111" stroke="none" stroke-width="1"/>
<rect x="738.00" y="498.85" width="1.50" height="1.50" fill="#111" stroke="none" stroke-width="1"/>
<rect x="753.65" y="500.50" width="1.50" height="1.50" fill="#111" stroke="none" stroke-width="1"/>
<rect x="741.15" y="507.15" width="1.50" height="1.50" fill="#111" stroke="none" stroke-width="1"/>
<rect x="735.50" y="508.85" width="1.50" height="1.50" fill="#111" stroke="none" stroke-width="1"/>
<rect x="742.55" y="512.35" width="1.50" height="1.50" fill="#111" stroke="none" stroke-width="1"/>
<rect x="746.95" y="511.95" width="1.50" height="1.50" fill="#111" stroke="none" stroke-width="1"/>
<rect x="752.55" y="508.85" width="1.50" height="1.50" fill="#111" stroke="none" stroke-width="1"/>
<rect x="765.05" y="506.15" width="1.50" height="1.50" fill="#111" stroke="none" stroke-width="1"/>
<rect x="733.85" y="513.45" width="1.50" height="1.50" fill="#111" stroke="none" stroke-width="1"/>
<rect x="736.95" y="518.65" width="1.50" height="1.50" fill="#111" stroke="none" stroke-width="1"/>
<rect x="750.50" y="517.55" width="1.50" height="1.50" fill="#111" stroke="none" stroke-width="1"/>
<rect x="759.25" y="515.95" width="1.50" height="1.50" fill="#111" stroke="none" stroke-width="1"/>
<rect x="733.45" y="522.75" width="1.50" height="1.50" fill="#111" stroke="none" stroke-width="1"/>
<rect x="738.45" y="521.75" width="1.50" height="1.50" fill="#111" stroke="none" stroke-width="1"/>
<rect x="752.55" y="529.65" width="1.50" height="1.50" fill="#111" stroke="none" stroke-width="1"/>
<rect x="759.25" y="528.65" width="1.50" height="1.50" fill="#111" stroke="none" stroke-width="1"/>
<rect x="753.65" y="531.15" width="1.50" height="1.50" fill="#111" stroke="none" stroke-width="1"/>
<rect x="767.15" y="505.50" width="1.50" height="1.50" fill="#111" stroke="none" stroke-width="1"/>
<rect x="827.75" y="430.15" width="1.50" height="1.50" fill="#111" stroke="none" stroke-width="1"/>
<rect x="823.45" y="474.75" width="1.50" height="1.50" fill="#111" stroke="none" stroke-width="1"/>
<rect x="837.25" y="474.05" width="1.50" height="1.50" fill="#111" stroke="none" stroke-width="1"/>
<rect x="832.95" y="500.15" width="1.50" height="1.50" fill="#111" stroke="none" stroke-width="1"/>
<rect x="845.05" y="497.25" width="1.50" height="1.50" fill="#111" stroke="none" stroke-width="1"/>
<rect x="822.95" y="516.05" width="1.50" height="1.50" fill="#111" stroke="none" stroke-width="1"/>
<rect x="842.45" y="513.15" width="1.50" height="1.50" fill="#111" stroke="none" stroke-width="1"/>
<rect x="818.75" y="522.65" width="1.50" height="1.50" fill="#111" stroke="none" stroke-width="1"/>
<rect x="820.65" y="525.75" width="1.50" height="1.50" fill="#111" stroke="none" stroke-width="1"/>
<rect x="829.65" y="525.75" width="1.50" height="1.50" fill="#111" stroke="none" stroke-width="1"/>
<rect x="835.35" y="525.05" width="1.50" height="1.50" fill="#111" stroke="none" stroke-width="1"/>
<rect x="837.95" y="521.45" width="1.50" height="1.50" fill="#111" stroke="none" stroke-width="1"/>
<rect x="846.75" y="523.85" width="1.50" height="1.50" fill="#111" stroke="none" stroke-width="1"/>
<rect x="849.05" y="519.15" width="1.50" height="1.50" fill="#111" stroke="none" stroke-width="1"/>
<rect x="865.75" y="449.85" width="1.50" height="1.50" fill="#111" stroke="none" stroke-width="1"/>
<rect x="875.65" y="449.85" width="1.50" height="1.50" fill="#111" stroke="none" stroke-width="1"/>
<rect x="875.65" y="463.35" width="1.50" height="1.50" fill="#111" stroke="none" stroke-width="1"/>
<rect x="887.05" y="463.35" width="1.50" height="1.50" fill="#111" stroke="none" stroke-width="1"/>
<rect x="861.45" y="497.75" width="1.50" height="1.50" fill="#111" stroke="none" stroke-width="1"/>
<rect x="872.35" y="495.35" width="1.50" height="1.50" fill="#111" stroke="none" stroke-width="1"/>
<rect x="874.75" y="504.85" width="1.50" height="1.50" fill="#111" stroke="none" stroke-width="1"/>
<rect x="875.65" y="513.15" width="1.50" height="1.50" fill="#111" stroke="none" stroke-width="1"/>
<rect x="863.35" y="521.45" width="1.50" height="1.50" fill="#111" stroke="none" stroke-width="1"/>
<rect x="868.05" y="523.85" width="1.50" height="1.50" fill="#111" stroke="none" stroke-width="1"/>
<rect x="875.65" y="522.25" width="1.50" height="1.50" fill="#111" stroke="none" stroke-width="1"/>
<rect x="881.15" y="523.85" width="1.50" height="1.50" fill="#111" stroke="none" stroke-width="1"/>
<rect x="883.55" y="521.45" width="1.50" height="1.50" fill="#111" stroke="none" stroke-width="1"/>
<rect x="883.05" y="513.15" width="1.50" height="1.50" fill="#111" stroke="none" stroke-width="1"/>
<rect x="888.95" y="512.75" width="1.50" height="1.50" fill="#111" stroke="none" stroke-width="1"/>
<rect x="943.35" y="493.05" width="1.50" height="1.50" fill="#111" stroke="none" stroke-width="1"/>
<rect x="946.85" y="506.05" width="1.50" height="1.50" fill="#111" stroke="none" stroke-width="1"/>
<rect x="949.25" y="515.55" width="1.50" height="1.50" fill="#111" stroke="none" stroke-width="1"/>
<rect x="951.65" y="511.95" width="1.50" height="1.50" fill="#111" stroke="none" stroke-width="1"/>
<rect x="954.05" y="509.65" width="1.50" height="1.50" fill="#111" stroke="none" stroke-width="1"/>
<rect x="948.35" y="521.45" width="1.50" height="1.50" fill="#111" stroke="none" stroke-width="1"/>
<rect x="953.55" y="522.65" width="1.50" height="1.50" fill="#111" stroke="none" stroke-width="1"/>
<rect x="953.55" y="525.55" width="1.50" height="1.50" fill="#111" stroke="none" stroke-width="1"/>
<rect x="960.65" y="499.45" width="1.50" height="1.50" fill="#111" stroke="none" stroke-width="1"/>
<rect x="963.05" y="514.35" width="1.50" height="1.50" fill="#111" stroke="none" stroke-width="1"/>
<rect x="966.15" y="515.55" width="1.50" height="1.50" fill="#111" stroke="none" stroke-width="1"/>
<rect x="966.15" y="525.05" width="1.50" height="1.50" fill="#111" stroke="none" stroke-width="1"/>
<rect x="965.85" y="435.35" width="1.50" height="1.50" fill="#111" stroke="none" stroke-width="1"/>
<rect x="1008.15" y="430.15" width="1.50" height="1.50" fill="#111" stroke="none" stroke-width="1"/>
<rect x="1002.15" y="509.65" width="1.50" height="1.50" fill="#111" stroke="none" stroke-width="1"/>
<rect x="1010.45" y="509.65" width="1.50" height="1.50" fill="#111" stroke="none" stroke-width="1"/>
<rect x="985.85" y="520.25" width="1.50" height="1.50" fill="#111" stroke="none" stroke-width="1"/>
<rect x="988.65" y="523.15" width="1.50" height="1.50" fill="#111" stroke="none" stroke-width="1"/>
<rect x="1002.15" y="520.25" width="1.50" height="1.50" fill="#111" stroke="none" stroke-width="1"/>
<rect x="1007.65" y="525.05" width="1.50" height="1.50" fill="#111" stroke="none" stroke-width="1"/>
<rect x="720.05" y="606.45" width="1.50" height="1.50" fill="#111" stroke="none" stroke-width="1"/>
<rect x="723.55" y="606.45" width="1.50" height="1.50" fill="#111" stroke="none" stroke-width="1"/>
<rect x="716.55" y="610.25" width="1.50" height="1.50" fill="#111" stroke="none" stroke-width="1"/>
<rect x="700.05" y="609.75" width="1.50" height="1.50" fill="#111" stroke="none" stroke-width="1"/>
<rect x="710.50" y="611.15" width="1.50" height="1.50" fill="#111" stroke="none" stroke-width="1"/>
<rect x="713.10" y="616.35" width="1.50" height="1.50" fill="#111" stroke="none" stroke-width="1"/>
<rect x="696.25" y="617.25" width="1.50" height="1.50" fill="#111" stroke="none" stroke-width="1"/>
<rect x="709.65" y="618.05" width="1.50" height="1.50" fill="#111" stroke="none" stroke-width="1"/>
<rect x="691.45" y="622.45" width="1.50" height="1.50" fill="#111" stroke="none" stroke-width="1"/>
<rect x="696.25" y="620.65" width="1.50" height="1.50" fill="#111" stroke="none" stroke-width="1"/>
<rect x="705.25" y="621.25" width="1.50" height="1.50" fill="#111" stroke="none" stroke-width="1"/>
<rect x="710.50" y="621.55" width="1.50" height="1.50" fill="#111" stroke="none" stroke-width="1"/>
<rect x="713.95" y="621.25" width="1.50" height="1.50" fill="#111" stroke="none" stroke-width="1"/>
<rect x="691.05" y="624.15" width="1.50" height="1.50" fill="#111" stroke="none" stroke-width="1"/>
<rect x="693.15" y="627.65" width="1.50" height="1.50" fill="#111" stroke="none" stroke-width="1"/>
<rect x="717.45" y="625.85" width="1.50" height="1.50" fill="#111" stroke="none" stroke-width="1"/>
<rect x="717.45" y="632.45" width="1.50" height="1.50" fill="#111" stroke="none" stroke-width="1"/>
<rect x="707.35" y="631.65" width="1.50" height="1.50" fill="#111" stroke="none" stroke-width="1"/>
<rect x="713.95" y="632.85" width="1.50" height="1.50" fill="#111" stroke="none" stroke-width="1"/>
<rect x="696.95" y="636.85" width="1.50" height="1.50" fill="#111" stroke="none" stroke-width="1"/>
<rect x="720.05" y="638.55" width="1.50" height="1.50" fill="#111" stroke="none" stroke-width="1"/>
<rect x="697.45" y="640.15" width="1.50" height="1.50" fill="#111" stroke="none" stroke-width="1"/>
<rect x="710.50" y="637.15" width="1.50" height="1.50" fill="#111" stroke="none" stroke-width="1"/>
<rect x="720.95" y="644.95" width="1.50" height="1.50" fill="#111" stroke="none" stroke-width="1"/>
<rect x="690.55" y="643.75" width="1.50" height="1.50" fill="#111" stroke="none" stroke-width="1"/>
<rect x="695.75" y="647.55" width="1.50" height="1.50" fill="#111" stroke="none" stroke-width="1"/>
<rect x="714.85" y="645.85" width="1.50" height="1.50" fill="#111" stroke="none" stroke-width="1"/>
<rect x="715.75" y="648.95" width="1.50" height="1.50" fill="#111" stroke="none" stroke-width="1"/>
<rect x="690.55" y="651.95" width="1.50" height="1.50" fill="#111" stroke="none" stroke-width="1"/>
<rect x="694.55" y="652.75" width="1.50" height="1.50" fill="#111" stroke="none" stroke-width="1"/>
<rect x="710.50" y="648.45" width="1.50" height="1.50" fill="#111" stroke="none" stroke-width="1"/>
<rect x="716.55" y="653.35" width="1.50" height="1.50" fill="#111" stroke="none" stroke-width="1"/>
<rect x="700.05" y="658.85" width="1.50" height="1.50" fill="#111" stroke="none" stroke-width="1"/>
<rect x="705.25" y="657.15" width="1.50" height="1.50" fill="#111" stroke="none" stroke-width="1"/>
<rect x="707.05" y="663.25" width="1.50" height="1.50" fill="#111" stroke="none" stroke-width="1"/>
<rect x="706.15" y="668.95" width="1.50" height="1.50" fill="#111" stroke="none" stroke-width="1"/>
<rect x="740.35" y="573.75" width="1.50" height="1.50" fill="#111" stroke="none" stroke-width="1"/>
<rect x="753.95" y="597.25" width="1.50" height="1.50" fill="#111" stroke="none" stroke-width="1"/>
<rect x="756.55" y="597.75" width="1.50" height="1.50" fill="#111" stroke="none" stroke-width="1"/>
<rect x="750.75" y="605.95" width="1.50" height="1.50" fill="#111" stroke="none" stroke-width="1"/>
<rect x="758.25" y="614.55" width="1.50" height="1.50" fill="#111" stroke="none" stroke-width="1"/>
<rect x="765.75" y="615.85" width="1.50" height="1.50" fill="#111" stroke="none" stroke-width="1"/>
<rect x="755.25" y="619.45" width="1.50" height="1.50" fill="#111" stroke="none" stroke-width="1"/>
<rect x="739.15" y="621.25" width="1.50" height="1.50" fill="#111" stroke="none" stroke-width="1"/>
<rect x="757.35" y="622.95" width="1.50" height="1.50" fill="#111" stroke="none" stroke-width="1"/>
<rect x="735.65" y="625.85" width="1.50" height="1.50" fill="#111" stroke="none" stroke-width="1"/>
<rect x="733.05" y="628.15" width="1.50" height="1.50" fill="#111" stroke="none" stroke-width="1"/>
<rect x="746.65" y="629.35" width="1.50" height="1.50" fill="#111" stroke="none" stroke-width="1"/>
<rect x="764.35" y="630.25" width="1.50" height="1.50" fill="#111" stroke="none" stroke-width="1"/>
<rect x="758.25" y="631.95" width="1.50" height="1.50" fill="#111" stroke="none" stroke-width="1"/>
<rect x="740.35" y="635.45" width="1.50" height="1.50" fill="#111" stroke="none" stroke-width="1"/>
<rect x="747.35" y="634.55" width="1.50" height="1.50" fill="#111" stroke="none" stroke-width="1"/>
<rect x="753.95" y="633.65" width="1.50" height="1.50" fill="#111" stroke="none" stroke-width="1"/>
<rect x="734.85" y="637.15" width="1.50" height="1.50" fill="#111" stroke="none" stroke-width="1"/>
<rect x="740.05" y="637.15" width="1.50" height="1.50" fill="#111" stroke="none" stroke-width="1"/>
<rect x="743.45" y="638.05" width="1.50" height="1.50" fill="#111" stroke="none" stroke-width="1"/>
<rect x="747.85" y="638.95" width="1.50" height="1.50" fill="#111" stroke="none" stroke-width="1"/>
<rect x="750.45" y="639.25" width="1.50" height="1.50" fill="#111" stroke="none" stroke-width="1"/>
<rect x="755.65" y="637.15" width="1.50" height="1.50" fill="#111" stroke="none" stroke-width="1"/>
<rect x="761.75" y="638.05" width="1.50" height="1.50" fill="#111" stroke="none" stroke-width="1"/>
<rect x="739.65" y="652.75" width="1.50" height="1.50" fill="#111" stroke="none" stroke-width="1"/>
<rect x="746.05" y="651.95" width="1.50" height="1.50" fill="#111" stroke="none" stroke-width="1"/>
<rect x="750.05" y="651.95" width="1.50" height="1.50" fill="#111" stroke="none" stroke-width="1"/>
<rect x="735.65" y="654.85" width="1.50" height="1.50" fill="#111" stroke="none" stroke-width="1"/>
<rect x="755.65" y="659.75" width="1.50" height="1.50" fill="#111" stroke="none" stroke-width="1"/>
<rect x="748.65" y="662.85" width="1.50" height="1.50" fill="#111" stroke="none" stroke-width="1"/>
<rect x="759.15" y="665.85" width="1.50" height="1.50" fill="#111" stroke="none" stroke-width="1"/>
<rect x="747.35" y="672.75" width="1.50" height="1.50" fill="#111" stroke="none" stroke-width="1"/>
<rect x="820.05" y="605.95" width="1.50" height="1.50" fill="#111" stroke="none" stroke-width="1"/>
<rect x="824.35" y="609.75" width="1.50" height="1.50" fill="#111" stroke="none" stroke-width="1"/>
<rect x="842.55" y="616.35" width="1.50" height="1.50" fill="#111" stroke="none" stroke-width="1"/>
<rect x="845.15" y="615.45" width="1.50" height="1.50" fill="#111" stroke="none" stroke-width="1"/>
<rect x="817.05" y="627.65" width="1.50" height="1.50" fill="#111" stroke="none" stroke-width="1"/>
<rect x="819.15" y="626.45" width="1.50" height="1.50" fill="#111" stroke="none" stroke-width="1"/>
<rect x="822.65" y="624.65" width="1.50" height="1.50" fill="#111" stroke="none" stroke-width="1"/>
<rect x="818.25" y="629.35" width="1.50" height="1.50" fill="#111" stroke="none" stroke-width="1"/>
<rect x="829.55" y="629.35" width="1.50" height="1.50" fill="#111" stroke="none" stroke-width="1"/>
<rect x="843.45" y="629.35" width="1.50" height="1.50" fill="#111" stroke="none" stroke-width="1"/>
<rect x="830.95" y="635.05" width="1.50" height="1.50" fill="#111" stroke="none" stroke-width="1"/>
<rect x="841.35" y="631.95" width="1.50" height="1.50" fill="#111" stroke="none" stroke-width="1"/>
<rect x="820.05" y="638.95" width="1.50" height="1.50" fill="#111" stroke="none" stroke-width="1"/>
<rect x="823.45" y="638.55" width="1.50" height="1.50" fill="#111" stroke="none" stroke-width="1"/>
<rect x="826.05" y="642.05" width="1.50" height="1.50" fill="#111" stroke="none" stroke-width="1"/>
<rect x="848.35" y="641.55" width="1.50" height="1.50" fill="#111" stroke="none" stroke-width="1"/>
<rect x="824.35" y="647.25" width="1.50" height="1.50" fill="#111" stroke="none" stroke-width="1"/>
<rect x="827.85" y="647.55" width="1.50" height="1.50" fill="#111" stroke="none" stroke-width="1"/>
<rect x="840.85" y="647.25" width="1.50" height="1.50" fill="#111" stroke="none" stroke-width="1"/>
<rect x="836.85" y="656.65" width="1.50" height="1.50" fill="#111" stroke="none" stroke-width="1"/>
<rect x="840.85" y="654.55" width="1.50" height="1.50" fill="#111" stroke="none" stroke-width="1"/>
<rect x="843.45" y="654.05" width="1.50" height="1.50" fill="#111" stroke="none" stroke-width="1"/>
<rect x="849.55" y="655.75" width="1.50" height="1.50" fill="#111" stroke="none" stroke-width="1"/>
<rect x="825.25" y="654.55" width="1.50" height="1.50" fill="#111" stroke="none" stroke-width="1"/>
<rect x="826.95" y="656.75" width="1.50" height="1.50" fill="#111" stroke="none" stroke-width="1"/>
<rect x="822.95" y="659.35" width="1.50" height="1.50" fill="#111" stroke="none" stroke-width="1"/>
<rect x="848.65" y="660.65" width="1.50" height="1.50" fill="#111" stroke="none" stroke-width="1"/>
<rect x="824.65" y="667.05" width="1.50" height="1.50" fill="#111" stroke="none" stroke-width="1"/>
<rect x="829.25" y="666.65" width="1.50" height="1.50" fill="#111" stroke="none" stroke-width="1"/>
<rect x="828.15" y="669.25" width="1.50" height="1.50" fill="#111" stroke="none" stroke-width="1"/>
<rect x="843.45" y="666.65" width="1.50" height="1.50" fill="#111" stroke="none" stroke-width="1"/>
<rect x="839.95" y="670.15" width="1.50" height="1.50" fill="#111" stroke="none" stroke-width="1"/>
<rect x="833.05" y="672.75" width="1.50" height="1.50" fill="#111" stroke="none" stroke-width="1"/>
<rect x="863.95" y="573.75" width="1.50" height="1.50" fill="#111" stroke="none" stroke-width="1"/>
<rect x="862.15" y="615.95" width="1.50" height="1.50" fill="#111" stroke="none" stroke-width="1"/>
<rect x="871.25" y="626.75" width="1.50" height="1.50" fill="#111" stroke="none" stroke-width="1"/>
<rect x="874.65" y="633.65" width="1.50" height="1.50" fill="#111" stroke="none" stroke-width="1"/>
<rect x="864.25" y="637.15" width="1.50" height="1.50" fill="#111" stroke="none" stroke-width="1"/>
<rect x="859.05" y="641.55" width="1.50" height="1.50" fill="#111" stroke="none" stroke-width="1"/>
<rect x="879.05" y="639.25" width="1.50" height="1.50" fill="#111" stroke="none" stroke-width="1"/>
<rect x="866.85" y="644.45" width="1.50" height="1.50" fill="#111" stroke="none" stroke-width="1"/>
<rect x="881.65" y="644.15" width="1.50" height="1.50" fill="#111" stroke="none" stroke-width="1"/>
<rect x="862.55" y="648.95" width="1.50" height="1.50" fill="#111" stroke="none" stroke-width="1"/>
<rect x="864.25" y="651.05" width="1.50" height="1.50" fill="#111" stroke="none" stroke-width="1"/>
<rect x="874.65" y="649.85" width="1.50" height="1.50" fill="#111" stroke="none" stroke-width="1"/>
<rect x="877.25" y="649.35" width="1.50" height="1.50" fill="#111" stroke="none" stroke-width="1"/>
<rect x="890.35" y="653.65" width="1.50" height="1.50" fill="#111" stroke="none" stroke-width="1"/>
<rect x="868.05" y="658.85" width="1.50" height="1.50" fill="#111" stroke="none" stroke-width="1"/>
<rect x="873.85" y="658.05" width="1.50" height="1.50" fill="#111" stroke="none" stroke-width="1"/>
<rect x="883.75" y="659.35" width="1.50" height="1.50" fill="#111" stroke="none" stroke-width="1"/>
<rect x="885.15" y="660.65" width="1.50" height="1.50" fill="#111" stroke="none" stroke-width="1"/>
<rect x="874.65" y="664.05" width="1.50" height="1.50" fill="#111" stroke="none" stroke-width="1"/>
<rect x="884.25" y="664.55" width="1.50" height="1.50" fill="#111" stroke="none" stroke-width="1"/>
<rect x="876.05" y="667.55" width="1.50" height="1.50" fill="#111" stroke="none" stroke-width="1"/>
<rect x="880.75" y="671.85" width="1.50" height="1.50" fill="#111" stroke="none" stroke-width="1"/>
<rect x="860.85" y="669.25" width="1.50" height="1.50" fill="#111" stroke="none" stroke-width="1"/>
<rect x="963.35" y="605.55" width="1.50" height="1.50" fill="#111" stroke="none" stroke-width="1"/>
<rect x="975.55" y="602.75" width="1.50" height="1.50" fill="#111" stroke="none" stroke-width="1"/>
<rect x="955.55" y="615.45" width="1.50" height="1.50" fill="#111" stroke="none" stroke-width="1"/>
<rect x="944.75" y="621.25" width="1.50" height="1.50" fill="#111" stroke="none" stroke-width="1"/>
<rect x="960.75" y="623.25" width="1.50" height="1.50" fill="#111" stroke="none" stroke-width="1"/>
<rect x="950.35" y="630.55" width="1.50" height="1.50" fill="#111" stroke="none" stroke-width="1"/>
<rect x="953.85" y="628.45" width="1.50" height="1.50" fill="#111" stroke="none" stroke-width="1"/>
<rect x="965.15" y="630.25" width="1.50" height="1.50" fill="#111" stroke="none" stroke-width="1"/>
<rect x="970.35" y="628.15" width="1.50" height="1.50" fill="#111" stroke="none" stroke-width="1"/>
<rect x="976.35" y="628.85" width="1.50" height="1.50" fill="#111" stroke="none" stroke-width="1"/>
<rect x="945.15" y="634.55" width="1.50" height="1.50" fill="#111" stroke="none" stroke-width="1"/>
<rect x="945.15" y="639.75" width="1.50" height="1.50" fill="#111" stroke="none" stroke-width="1"/>
<rect x="963.35" y="636.85" width="1.50" height="1.50" fill="#111" stroke="none" stroke-width="1"/>
<rect x="966.85" y="636.25" width="1.50" height="1.50" fill="#111" stroke="none" stroke-width="1"/>
<rect x="972.95" y="642.05" width="1.50" height="1.50" fill="#111" stroke="none" stroke-width="1"/>
<rect x="968.55" y="644.15" width="1.50" height="1.50" fill="#111" stroke="none" stroke-width="1"/>
<rect x="972.95" y="645.85" width="1.50" height="1.50" fill="#111" stroke="none" stroke-width="1"/>
<rect x="947.25" y="650.55" width="1.50" height="1.50" fill="#111" stroke="none" stroke-width="1"/>
<rect x="959.05" y="647.25" width="1.50" height="1.50" fill="#111" stroke="none" stroke-width="1"/>
<rect x="959.05" y="651.95" width="1.50" height="1.50" fill="#111" stroke="none" stroke-width="1"/>
<rect x="970.85" y="651.05" width="1.50" height="1.50" fill="#111" stroke="none" stroke-width="1"/>
<rect x="944.25" y="654.15" width="1.50" height="1.50" fill="#111" stroke="none" stroke-width="1"/>
<rect x="946.05" y="656.25" width="1.50" height="1.50" fill="#111" stroke="none" stroke-width="1"/>
<rect x="972.05" y="654.05" width="1.50" height="1.50" fill="#111" stroke="none" stroke-width="1"/>
<rect x="946.85" y="659.35" width="1.50" height="1.50" fill="#111" stroke="none" stroke-width="1"/>
<rect x="956.45" y="659.35" width="1.50" height="1.50" fill="#111" stroke="none" stroke-width="1"/>
<rect x="962.50" y="658.35" width="1.50" height="1.50" fill="#111" stroke="none" stroke-width="1"/>
<rect x="968.55" y="659.25" width="1.50" height="1.50" fill="#111" stroke="none" stroke-width="1"/>
<rect x="973.75" y="659.35" width="1.50" height="1.50" fill="#111" stroke="none" stroke-width="1"/>
<rect x="952.05" y="662.35" width="1.50" height="1.50" fill="#111" stroke="none" stroke-width="1"/>
<rect x="954.65" y="663.25" width="1.50" height="1.50" fill="#111" stroke="none" stroke-width="1"/>
<rect x="959.85" y="668.45" width="1.50" height="1.50" fill="#111" stroke="none" stroke-width="1"/>
<rect x="950.00" y="674.45" width="1.50" height="1.50" fill="#111" stroke="none" stroke-width="1"/>
<rect x="962.50" y="674.85" width="1.50" height="1.50" fill="#111" stroke="none" stroke-width="1"/>
<rect x="969.05" y="676.75" width="1.50" height="1.50" fill="#111" stroke="none" stroke-width="1"/>
<rect x="1007.15" y="573.75" width="1.50" height="1.50" fill="#111" stroke="none" stroke-width="1"/>
<rect x="1016.85" y="580.35" width="1.50" height="1.50" fill="#111" stroke="none" stroke-width="1"/>
<rect x="990.25" y="596.85" width="1.50" height="1.50" fill="#111" stroke="none" stroke-width="1"/>
<rect x="986.45" y="600.75" width="1.50" height="1.50" fill="#111" stroke="none" stroke-width="1"/>
<rect x="997.25" y="599.85" width="1.50" height="1.50" fill="#111" stroke="none" stroke-width="1"/>
<rect x="1018.05" y="601.05" width="1.50" height="1.50" fill="#111" stroke="none" stroke-width="1"/>
<rect x="1005.55" y="624.15" width="1.50" height="1.50" fill="#111" stroke="none" stroke-width="1"/>
<rect x="992.35" y="628.85" width="1.50" height="1.50" fill="#111" stroke="none" stroke-width="1"/>
<rect x="986.45" y="633.65" width="1.50" height="1.50" fill="#111" stroke="none" stroke-width="1"/>
<rect x="986.85" y="640.15" width="1.50" height="1.50" fill="#111" stroke="none" stroke-width="1"/>
<rect x="985.95" y="644.95" width="1.50" height="1.50" fill="#111" stroke="none" stroke-width="1"/>
<rect x="991.65" y="643.75" width="1.50" height="1.50" fill="#111" stroke="none" stroke-width="1"/>
<rect x="999.85" y="638.95" width="1.50" height="1.50" fill="#111" stroke="none" stroke-width="1"/>
<rect x="1015.95" y="648.45" width="1.50" height="1.50" fill="#111" stroke="none" stroke-width="1"/>
<rect x="1018.45" y="649.35" width="1.50" height="1.50" fill="#111" stroke="none" stroke-width="1"/>
<rect x="1018.05" y="651.05" width="1.50" height="1.50" fill="#111" stroke="none" stroke-width="1"/>
<rect x="1002.75" y="658.85" width="1.50" height="1.50" fill="#111" stroke="none" stroke-width="1"/>
<rect x="1011.45" y="658.85" width="1.50" height="1.50" fill="#111" stroke="none" stroke-width="1"/>
<rect x="988.85" y="664.45" width="1.50" height="1.50" fill="#111" stroke="none" stroke-width="1"/>
<rect x="990.65" y="664.05" width="1.50" height="1.50" fill="#111" stroke="none" stroke-width="1"/>
<rect x="1002.75" y="664.05" width="1.50" height="1.50" fill="#111" stroke="none" stroke-width="1"/>
<rect x="995.85" y="669.25" width="1.50" height="1.50" fill="#111" stroke="none" stroke-width="1"/>
<rect x="1011.15" y="673.15" width="1.50" height="1.50" fill="#111" stroke="none" stroke-width="1"/>
<rect x="995.15" y="676.25" width="1.50" height="1.50" fill="#111" stroke="none" stroke-width="1"/>
</svg>
</body></html>
